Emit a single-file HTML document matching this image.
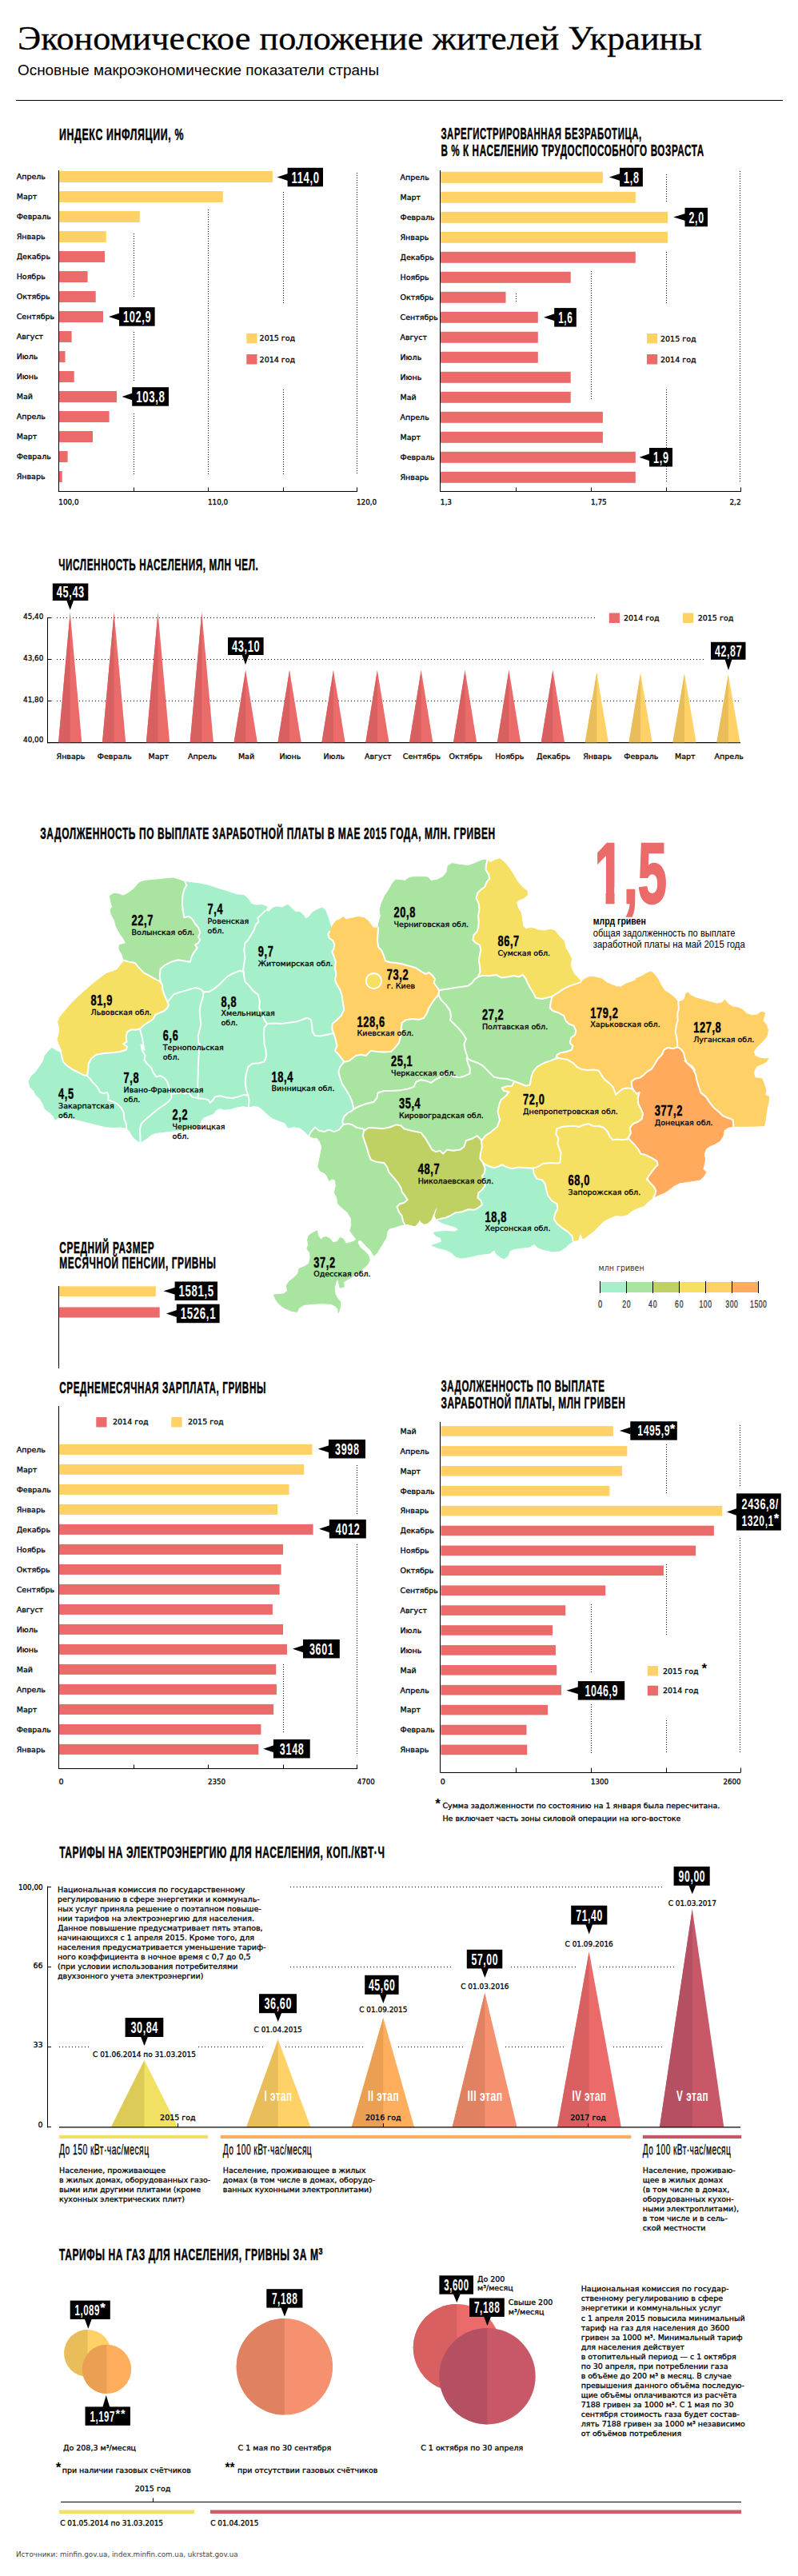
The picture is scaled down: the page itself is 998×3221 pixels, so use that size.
<!DOCTYPE html>
<html lang="ru"><head><meta charset="utf-8"><title>Экономическое положение жителей Украины</title>
<style>
html,body{margin:0;padding:0;background:#fff}
svg{display:block;font-family:'Liberation Sans',sans-serif}
.h{font-family:'Liberation Sans',sans-serif;font-weight:bold;stroke-width:.45px}
.l{font-family:'DejaVu Sans','Liberation Sans',sans-serif;font-size:9.5px;stroke:#000;stroke-width:.3px}
.d4{stroke:#000;stroke-width:1;stroke-dasharray:1 3;fill:none}
.hc{font-family:'Liberation Sans',sans-serif;stroke:#000;stroke-width:.3px}
.d{stroke:#000;stroke-width:1;stroke-dasharray:1 2;fill:none}
</style></head><body>
<svg width="998" height="3221" viewBox="0 0 998 3221">
<text x="22.0" y="61.5" font-size="42.5" font-family="'Liberation Serif', serif" textLength="856.0" lengthAdjust="spacingAndGlyphs" stroke="#000" stroke-width="0.3">Экономическое положение жителей Украины</text>
<text x="22.0" y="94.0" font-size="17.5" font-family="'Liberation Sans', sans-serif" textLength="452.0" lengthAdjust="spacingAndGlyphs">Основные макроэкономические показатели страны</text>
<line x1="20.0" y1="125.5" x2="979.0" y2="125.5" stroke="#000" stroke-width="1" />
<text class="h" transform="translate(74.0 174.5) scale(0.630 1)" font-size="19.6" stroke="#000" textLength="246.7" lengthAdjust="spacing">ИНДЕКС ИНФЛЯЦИИ, %</text>
<rect x="73.3" y="214.0" width="267.6" height="14.0" fill="#FFD166" />
<text class="l" x="20.7" y="224.3">Апрель</text>
<rect x="73.3" y="239.0" width="205.5" height="14.0" fill="#FFD166" />
<text class="l" x="20.7" y="249.3">Март</text>
<rect x="73.3" y="264.0" width="101.5" height="14.0" fill="#FFD166" />
<text class="l" x="20.7" y="274.3">Февраль</text>
<rect x="73.3" y="289.0" width="59.5" height="14.0" fill="#FFD166" />
<text class="l" x="20.7" y="299.3">Январь</text>
<rect x="73.3" y="314.0" width="57.7" height="14.0" fill="#EB6A6A" />
<text class="l" x="20.7" y="324.3">Декабрь</text>
<rect x="73.3" y="339.0" width="36.3" height="14.0" fill="#EB6A6A" />
<text class="l" x="20.7" y="349.3">Ноябрь</text>
<rect x="73.3" y="364.0" width="46.4" height="14.0" fill="#EB6A6A" />
<text class="l" x="20.7" y="374.3">Октябрь</text>
<rect x="73.3" y="389.0" width="55.7" height="14.0" fill="#EB6A6A" />
<text class="l" x="20.7" y="399.3">Сентябрь</text>
<rect x="73.3" y="414.0" width="16.3" height="14.0" fill="#EB6A6A" />
<text class="l" x="20.7" y="424.3">Август</text>
<rect x="73.3" y="439.0" width="8.2" height="14.0" fill="#EB6A6A" />
<text class="l" x="20.7" y="449.3">Июль</text>
<rect x="73.3" y="464.0" width="19.4" height="14.0" fill="#EB6A6A" />
<text class="l" x="20.7" y="474.3">Июнь</text>
<rect x="73.3" y="489.0" width="72.7" height="14.0" fill="#EB6A6A" />
<text class="l" x="20.7" y="499.3">Май</text>
<rect x="73.3" y="514.0" width="63.3" height="14.0" fill="#EB6A6A" />
<text class="l" x="20.7" y="524.3">Апрель</text>
<rect x="73.3" y="539.0" width="42.7" height="14.0" fill="#EB6A6A" />
<text class="l" x="20.7" y="549.3">Март</text>
<rect x="73.3" y="564.0" width="11.3" height="14.0" fill="#EB6A6A" />
<text class="l" x="20.7" y="574.3">Февраль</text>
<rect x="73.3" y="589.0" width="4.4" height="14.0" fill="#EB6A6A" />
<text class="l" x="20.7" y="599.3">Январь</text>
<line x1="73.5" y1="213.0" x2="73.5" y2="615.0" stroke="#000" stroke-width="1" />
<line x1="72.8" y1="614.5" x2="446.5" y2="614.5" stroke="#000" stroke-width="1" />
<line x1="73.5" y1="609.5" x2="73.5" y2="615.0" stroke="#000" stroke-width="1" />
<text class="l" x="73.3" y="631.0" textLength="25.2" lengthAdjust="spacingAndGlyphs">100,0</text>
<line x1="167.5" y1="609.5" x2="167.5" y2="615.0" stroke="#000" stroke-width="1" />
<line x1="260.5" y1="609.5" x2="260.5" y2="615.0" stroke="#000" stroke-width="1" />
<text class="l" x="260.0" y="631.0" textLength="25.2" lengthAdjust="spacingAndGlyphs">110,0</text>
<line x1="354.5" y1="609.5" x2="354.5" y2="615.0" stroke="#000" stroke-width="1" />
<line x1="446.5" y1="609.5" x2="446.5" y2="615.0" stroke="#000" stroke-width="1" />
<text class="l" x="446.0" y="631.0" textLength="25.2" lengthAdjust="spacingAndGlyphs">120,0</text>
<line x1="167.5" y1="292.0" x2="167.5" y2="371.0" class="d"/>
<line x1="167.5" y1="415.0" x2="167.5" y2="478.0" class="d"/>
<line x1="167.5" y1="517.0" x2="167.5" y2="594.0" class="d"/>
<line x1="260.5" y1="262.0" x2="260.5" y2="594.0" class="d"/>
<line x1="354.5" y1="240.0" x2="354.5" y2="381.0" class="d"/>
<line x1="354.5" y1="487.0" x2="354.5" y2="594.0" class="d"/>
<line x1="446.5" y1="216.0" x2="446.5" y2="594.0" class="d"/>
<polygon points="346.5,221.5 360.1,217.0 360.1,226.0" fill="#000" />
<rect x="359.6" y="209.8" width="44.4" height="23.5" fill="#000" />
<text class="h" transform="translate(381.8 228.5) scale(0.670 1)" font-size="19.5" fill="#fff" text-anchor="middle" textLength="51.3" lengthAdjust="spacing">114,0</text>
<polygon points="136.0,396.0 149.5,391.5 149.5,400.5" fill="#000" />
<rect x="149.0" y="384.2" width="44.6" height="23.5" fill="#000" />
<text class="h" transform="translate(171.3 403.0) scale(0.659 1)" font-size="19.5" fill="#fff" text-anchor="middle" textLength="52.5" lengthAdjust="spacing">102,9</text>
<polygon points="152.6,496.0 165.7,491.5 165.7,500.5" fill="#000" />
<rect x="165.2" y="484.2" width="45.8" height="23.5" fill="#000" />
<text class="h" transform="translate(188.1 503.0) scale(0.682 1)" font-size="19.5" fill="#fff" text-anchor="middle" textLength="52.5" lengthAdjust="spacing">103,8</text>
<rect x="308.3" y="416.8" width="13.2" height="12.5" fill="#FFD166" />
<text class="l" x="324.6" y="426.3">2015 год</text>
<rect x="308.3" y="443.0" width="13.2" height="12.5" fill="#EB6A6A" />
<text class="l" x="324.6" y="452.5">2014 год</text>
<text class="h" transform="translate(551.4 173.5) scale(0.580 1)" font-size="19.6" stroke="#000" textLength="432.5" lengthAdjust="spacing">ЗАРЕГИСТРИРОВАННАЯ БЕЗРАБОТИЦА,</text>
<text class="h" transform="translate(551.4 195.1) scale(0.596 1)" font-size="19.6" stroke="#000" textLength="551.7" lengthAdjust="spacing">В % К НАСЕЛЕНИЮ ТРУДОСПОСОБНОГО ВОЗРАСТА</text>
<rect x="550.8" y="214.8" width="203.1" height="14.0" fill="#FFD166" />
<text class="l" x="500.5" y="225.1">Апрель</text>
<rect x="550.8" y="239.8" width="244.0" height="14.0" fill="#FFD166" />
<text class="l" x="500.5" y="250.1">Март</text>
<rect x="550.8" y="264.8" width="284.2" height="14.0" fill="#FFD166" />
<text class="l" x="500.5" y="275.1">Февраль</text>
<rect x="550.8" y="289.8" width="284.2" height="14.0" fill="#FFD166" />
<text class="l" x="500.5" y="300.1">Январь</text>
<rect x="550.8" y="314.8" width="244.0" height="14.0" fill="#EB6A6A" />
<text class="l" x="500.5" y="325.1">Декабрь</text>
<rect x="550.8" y="339.8" width="162.9" height="14.0" fill="#EB6A6A" />
<text class="l" x="500.5" y="350.1">Ноябрь</text>
<rect x="550.8" y="364.8" width="81.7" height="14.0" fill="#EB6A6A" />
<text class="l" x="500.5" y="375.1">Октябрь</text>
<rect x="550.8" y="389.8" width="122.0" height="14.0" fill="#EB6A6A" />
<text class="l" x="500.5" y="400.1">Сентябрь</text>
<rect x="550.8" y="414.8" width="122.0" height="14.0" fill="#EB6A6A" />
<text class="l" x="500.5" y="425.1">Август</text>
<rect x="550.8" y="439.8" width="122.0" height="14.0" fill="#EB6A6A" />
<text class="l" x="500.5" y="450.1">Июль</text>
<rect x="550.8" y="464.8" width="162.9" height="14.0" fill="#EB6A6A" />
<text class="l" x="500.5" y="475.1">Июнь</text>
<rect x="550.8" y="489.8" width="162.9" height="14.0" fill="#EB6A6A" />
<text class="l" x="500.5" y="500.1">Май</text>
<rect x="550.8" y="514.8" width="203.1" height="14.0" fill="#EB6A6A" />
<text class="l" x="500.5" y="525.1">Апрель</text>
<rect x="550.8" y="539.8" width="203.1" height="14.0" fill="#EB6A6A" />
<text class="l" x="500.5" y="550.1">Март</text>
<rect x="550.8" y="564.8" width="244.0" height="14.0" fill="#EB6A6A" />
<text class="l" x="500.5" y="575.1">Февраль</text>
<rect x="550.8" y="589.8" width="244.0" height="14.0" fill="#EB6A6A" />
<text class="l" x="500.5" y="600.1">Январь</text>
<line x1="550.5" y1="213.0" x2="550.5" y2="615.0" stroke="#000" stroke-width="1" />
<line x1="550.3" y1="614.5" x2="926.5" y2="614.5" stroke="#000" stroke-width="1" />
<line x1="550.5" y1="609.5" x2="550.5" y2="615.0" stroke="#000" stroke-width="1" />
<line x1="645.5" y1="609.5" x2="645.5" y2="615.0" stroke="#000" stroke-width="1" />
<line x1="739.5" y1="609.5" x2="739.5" y2="615.0" stroke="#000" stroke-width="1" />
<line x1="833.5" y1="609.5" x2="833.5" y2="615.0" stroke="#000" stroke-width="1" />
<line x1="926.5" y1="609.5" x2="926.5" y2="615.0" stroke="#000" stroke-width="1" />
<text class="l" x="550.8" y="631.0" textLength="14.2" lengthAdjust="spacingAndGlyphs">1,3</text>
<text class="l" x="739.0" y="631.0" textLength="19.7" lengthAdjust="spacingAndGlyphs">1,75</text>
<text class="l" x="926.6" y="631.0" text-anchor="end" textLength="14.2" lengthAdjust="spacingAndGlyphs">2,2</text>
<line x1="645.5" y1="367.0" x2="645.5" y2="379.0" class="d"/>
<line x1="739.5" y1="339.0" x2="739.5" y2="500.0" class="d"/>
<line x1="833.5" y1="218.0" x2="833.5" y2="254.0" class="d"/>
<line x1="833.5" y1="315.0" x2="833.5" y2="381.0" class="d"/>
<line x1="833.5" y1="487.0" x2="833.5" y2="603.0" class="d"/>
<line x1="925.5" y1="214.0" x2="925.5" y2="603.0" class="d"/>
<polygon points="761.7,221.5 775.6,217.0 775.6,226.0" fill="#000" />
<rect x="775.1" y="209.8" width="28.8" height="23.5" fill="#000" />
<text class="h" transform="translate(789.5 228.5) scale(0.645 1)" font-size="19.5" fill="#fff" text-anchor="middle" textLength="29.1" lengthAdjust="spacing">1,8</text>
<polygon points="842.2,271.5 857.0,267.0 857.0,276.0" fill="#000" />
<rect x="856.5" y="259.8" width="28.5" height="23.5" fill="#000" />
<text class="h" transform="translate(870.8 278.5) scale(0.635 1)" font-size="19.5" fill="#fff" text-anchor="middle" textLength="29.1" lengthAdjust="spacing">2,0</text>
<polygon points="680.0,396.8 693.7,392.3 693.7,401.3" fill="#000" />
<rect x="693.2" y="385.1" width="27.6" height="23.5" fill="#000" />
<text class="h" transform="translate(707.0 403.8) scale(0.604 1)" font-size="19.5" fill="#fff" text-anchor="middle" textLength="29.1" lengthAdjust="spacing">1,6</text>
<polygon points="799.5,571.8 812.5,567.3 812.5,576.3" fill="#000" />
<rect x="812.0" y="560.0" width="29.0" height="23.5" fill="#000" />
<text class="h" transform="translate(826.5 578.8) scale(0.652 1)" font-size="19.5" fill="#fff" text-anchor="middle" textLength="29.1" lengthAdjust="spacing">1,9</text>
<rect x="809.0" y="417.0" width="13.2" height="12.5" fill="#FFD166" />
<text class="l" x="826.0" y="426.6">2015 год</text>
<rect x="809.0" y="443.0" width="13.2" height="12.5" fill="#EB6A6A" />
<text class="l" x="826.0" y="452.8">2014 год</text>
<text class="h" transform="translate(73.3 712.7) scale(0.598 1)" font-size="19.6" stroke="#000" textLength="417.1" lengthAdjust="spacing">ЧИСЛЕННОСТЬ НАСЕЛЕНИЯ, МЛН ЧЕЛ.</text>
<text class="l" x="54.3" y="773.8" text-anchor="end" textLength="25.2" lengthAdjust="spacingAndGlyphs">45,40</text>
<text class="l" x="54.3" y="825.9" text-anchor="end" textLength="25.2" lengthAdjust="spacingAndGlyphs">43,60</text>
<text class="l" x="54.3" y="877.8" text-anchor="end" textLength="25.2" lengthAdjust="spacingAndGlyphs">41,80</text>
<text class="l" x="54.3" y="927.5" text-anchor="end" textLength="25.2" lengthAdjust="spacingAndGlyphs">40,00</text>
<line x1="71" y1="772.5" x2="746" y2="772.5" class="d4"/>
<line x1="59.6" y1="772.5" x2="64.5" y2="772.5" stroke="#000" stroke-width="1" />
<line x1="71" y1="824.5" x2="882" y2="824.5" class="d4"/>
<line x1="59.6" y1="824.5" x2="64.5" y2="824.5" stroke="#000" stroke-width="1" />
<line x1="71" y1="876.5" x2="926" y2="876.5" class="d4"/>
<line x1="59.6" y1="876.5" x2="64.5" y2="876.5" stroke="#000" stroke-width="1" />
<line x1="59.5" y1="772.0" x2="59.5" y2="929.2" stroke="#000" stroke-width="1" />
<line x1="59.1" y1="928.7" x2="926.0" y2="928.7" stroke="#000" stroke-width="1.2" />
<polygon points="87.7,765.8 102.3,928.2 73.1,928.2" fill="#EB6A6A" />
<polygon points="87.7,765.8 87.7,928.2 73.1,928.2" fill="#D96060" />
<text class="l" x="88.5" y="948.6" text-anchor="middle">Январь</text>
<polygon points="142.6,765.8 157.2,928.2 128.0,928.2" fill="#EB6A6A" />
<polygon points="142.6,765.8 142.6,928.2 128.0,928.2" fill="#D96060" />
<text class="l" x="143.4" y="948.6" text-anchor="middle">Февраль</text>
<polygon points="197.5,765.8 212.1,928.2 182.9,928.2" fill="#EB6A6A" />
<polygon points="197.5,765.8 197.5,928.2 182.9,928.2" fill="#D96060" />
<text class="l" x="198.3" y="948.6" text-anchor="middle">Март</text>
<polygon points="252.3,765.8 266.9,928.2 237.7,928.2" fill="#EB6A6A" />
<polygon points="252.3,765.8 252.3,928.2 237.7,928.2" fill="#D96060" />
<text class="l" x="253.1" y="948.6" text-anchor="middle">Апрель</text>
<polygon points="307.2,838.0 321.8,928.2 292.6,928.2" fill="#EB6A6A" />
<polygon points="307.2,838.0 307.2,928.2 292.6,928.2" fill="#D96060" />
<text class="l" x="308.0" y="948.6" text-anchor="middle">Май</text>
<polygon points="362.1,838.0 376.7,928.2 347.5,928.2" fill="#EB6A6A" />
<polygon points="362.1,838.0 362.1,928.2 347.5,928.2" fill="#D96060" />
<text class="l" x="362.9" y="948.6" text-anchor="middle">Июнь</text>
<polygon points="417.0,838.0 431.6,928.2 402.4,928.2" fill="#EB6A6A" />
<polygon points="417.0,838.0 417.0,928.2 402.4,928.2" fill="#D96060" />
<text class="l" x="417.8" y="948.6" text-anchor="middle">Июль</text>
<polygon points="471.9,838.0 486.5,928.2 457.3,928.2" fill="#EB6A6A" />
<polygon points="471.9,838.0 471.9,928.2 457.3,928.2" fill="#D96060" />
<text class="l" x="472.7" y="948.6" text-anchor="middle">Август</text>
<polygon points="526.7,838.0 541.3,928.2 512.1,928.2" fill="#EB6A6A" />
<polygon points="526.7,838.0 526.7,928.2 512.1,928.2" fill="#D96060" />
<text class="l" x="527.5" y="948.6" text-anchor="middle">Сентябрь</text>
<polygon points="581.6,838.0 596.2,928.2 567.0,928.2" fill="#EB6A6A" />
<polygon points="581.6,838.0 581.6,928.2 567.0,928.2" fill="#D96060" />
<text class="l" x="582.4" y="948.6" text-anchor="middle">Октябрь</text>
<polygon points="636.5,838.0 651.1,928.2 621.9,928.2" fill="#EB6A6A" />
<polygon points="636.5,838.0 636.5,928.2 621.9,928.2" fill="#D96060" />
<text class="l" x="637.3" y="948.6" text-anchor="middle">Ноябрь</text>
<polygon points="691.4,838.0 706.0,928.2 676.8,928.2" fill="#EB6A6A" />
<polygon points="691.4,838.0 691.4,928.2 676.8,928.2" fill="#D96060" />
<text class="l" x="692.2" y="948.6" text-anchor="middle">Декабрь</text>
<polygon points="746.3,841.0 760.9,928.2 731.7,928.2" fill="#FFD166" />
<polygon points="746.3,841.0 746.3,928.2 731.7,928.2" fill="#E9BD59" />
<text class="l" x="747.1" y="948.6" text-anchor="middle">Январь</text>
<polygon points="801.1,842.0 815.7,928.2 786.5,928.2" fill="#FFD166" />
<polygon points="801.1,842.0 801.1,928.2 786.5,928.2" fill="#E9BD59" />
<text class="l" x="801.9" y="948.6" text-anchor="middle">Февраль</text>
<polygon points="856.0,842.5 870.6,928.2 841.4,928.2" fill="#FFD166" />
<polygon points="856.0,842.5 856.0,928.2 841.4,928.2" fill="#E9BD59" />
<text class="l" x="856.8" y="948.6" text-anchor="middle">Март</text>
<polygon points="910.9,843.5 925.5,928.2 896.3,928.2" fill="#FFD166" />
<polygon points="910.9,843.5 910.9,928.2 896.3,928.2" fill="#E9BD59" />
<text class="l" x="911.7" y="948.6" text-anchor="middle">Апрель</text>
<polygon points="87.7,762.7 83.2,750.5 92.2,750.5" fill="#000" />
<rect x="65.8" y="729.5" width="44.5" height="21.5" fill="#000" />
<text class="h" transform="translate(88.0 747.3) scale(0.657 1)" font-size="19.5" fill="#fff" text-anchor="middle" textLength="52.5" lengthAdjust="spacing">45,43</text>
<polygon points="307.0,831.0 302.5,818.5 311.5,818.5" fill="#000" />
<rect x="285.0" y="797.0" width="44.6" height="22.0" fill="#000" />
<text class="h" transform="translate(307.3 815.0) scale(0.659 1)" font-size="19.5" fill="#fff" text-anchor="middle" textLength="52.5" lengthAdjust="spacing">43,10</text>
<polygon points="911.0,838.0 906.5,824.3 915.5,824.3" fill="#000" />
<rect x="889.0" y="802.8" width="43.5" height="22.0" fill="#000" />
<text class="h" transform="translate(910.8 820.8) scale(0.638 1)" font-size="19.5" fill="#fff" text-anchor="middle" textLength="52.5" lengthAdjust="spacing">42,87</text>
<rect x="761.8" y="766.5" width="13.2" height="12.5" fill="#EB6A6A" />
<text class="l" x="780.0" y="776.0">2014 год</text>
<rect x="854.0" y="766.5" width="13.2" height="12.5" fill="#FFD166" />
<text class="l" x="872.7" y="776.0">2015 год</text>
<text class="h" transform="translate(50.3 1049.3) scale(0.611 1)" font-size="19.6" stroke="#000" textLength="931.0" lengthAdjust="spacing">ЗАДОЛЖЕННОСТЬ ПО ВЫПЛАТЕ ЗАРАБОТНОЙ ПЛАТЫ В МАЕ 2015 ГОДА, МЛН. ГРИВЕН</text>
<g stroke-width="1" stroke-linejoin="round">
<path fill="#A9E5A0" stroke="#A9E5A0" d="M155.1 1200.8 L152.6 1192.8 L148.8 1186.5 L149.6 1181.5 L155.1 1180.3 L157.6 1179.0 L153.8 1172.7 L148.8 1165.2 L145.1 1157.7 L143.1 1150.2 L139.5 1143.9 L138.0 1137.6 L140.6 1133.9 L138.8 1127.6 L137.5 1120.1 L142.6 1117.1 L148.8 1118.1 L153.8 1120.1 L160.1 1117.1 L167.6 1111.3 L173.9 1103.8 L181.4 1101.3 L195.2 1100.1 L206.5 1098.8 L216.5 1098.0 L225.3 1100.6 L231.5 1103.1 L231.5 1103.1 L233.3 1107.1 L230.3 1112.6 L228.3 1120.1 L227.8 1130.1 L229.0 1140.2 L230.3 1147.2 L235.8 1145.7 L240.3 1148.9 L244.1 1155.2 L248.3 1160.2 L250.3 1166.5 L247.8 1171.5 L250.3 1175.2 L247.8 1179.0 L244.1 1181.5 L246.6 1185.3 L242.8 1190.3 L239.8 1195.8 L237.8 1202.8 L230.3 1201.6 L222.8 1200.3 L214.0 1202.8 L206.5 1206.6 L200.7 1211.6 L199.7 1220.4 L200.7 1227.4 L200.7 1227.4 L195.2 1224.9 L187.7 1220.4 L180.2 1216.6 L173.9 1210.3 L168.9 1204.1 L161.4 1202.8 L155.1 1200.8 Z"/>
<path fill="#A5F0CB" stroke="#A5F0CB" d="M231.3 1102.6 L240.1 1103.8 L250.1 1105.1 L260.2 1107.1 L272.7 1111.3 L285.2 1115.1 L296.5 1118.8 L305.3 1119.6 L310.3 1123.9 L314.0 1130.1 L320.3 1132.1 L327.8 1131.4 L334.1 1133.9 L331.6 1138.9 L331.6 1138.9 L326.6 1143.9 L322.3 1147.7 L323.3 1152.7 L319.8 1156.4 L317.8 1162.7 L314.0 1169.0 L310.3 1175.2 L306.5 1179.0 L305.3 1187.8 L306.5 1197.8 L304.8 1207.8 L304.0 1214.1 L304.6 1215.1 L300.3 1213.8 L296.5 1215.1 L290.3 1217.6 L284.0 1221.4 L279.0 1226.4 L274.0 1231.4 L267.7 1236.4 L261.5 1240.2 L254.7 1240.2 L254.7 1240.2 L250.2 1236.4 L243.9 1235.1 L233.9 1238.1 L223.9 1240.9 L217.6 1243.2 L213.8 1247.7 L209.6 1252.7 L209.4 1252.7 L205.4 1243.9 L203.4 1237.6 L202.9 1231.4 L199.9 1227.1 L200.7 1227.4 L199.7 1220.4 L200.7 1211.6 L206.5 1206.6 L214.0 1202.8 L222.8 1200.3 L230.3 1201.6 L237.8 1202.8 L239.8 1195.8 L242.8 1190.3 L246.6 1185.3 L244.1 1181.5 L247.8 1179.0 L250.3 1175.2 L247.8 1171.5 L250.3 1166.5 L248.3 1160.2 L244.1 1155.2 L240.3 1148.9 L235.8 1145.7 L230.3 1147.2 L229.0 1140.2 L227.8 1130.1 L228.3 1120.1 L230.3 1112.6 L233.3 1107.1 L231.5 1103.1 Z"/>
<path fill="#A5F0CB" stroke="#A5F0CB" d="M331.6 1138.8 L336.3 1140.1 L341.4 1135.1 L346.4 1133.8 L352.6 1135.1 L360.2 1131.3 L363.9 1135.1 L368.9 1140.1 L375.2 1140.6 L378.9 1143.9 L382.7 1148.9 L386.5 1146.4 L390.2 1141.4 L396.5 1137.6 L402.8 1135.1 L406.5 1137.6 L409.0 1143.9 L411.5 1151.4 L414.0 1158.9 L412.3 1164.7 L412.3 1164.7 L410.3 1167.7 L411.5 1172.7 L416.5 1176.4 L418.3 1181.5 L417.3 1186.5 L415.3 1190.2 L417.8 1196.5 L419.8 1202.8 L419.0 1210.3 L420.3 1217.8 L419.0 1225.3 L421.6 1231.6 L425.3 1237.8 L427.8 1245.4 L427.8 1246.3 L429.1 1255.0 L430.3 1262.6 L426.6 1270.1 L420.3 1276.3 L415.8 1280.1 L415.3 1286.4 L417.3 1292.1 L417.3 1292.1 L414.0 1292.6 L407.8 1293.9 L400.3 1295.6 L394.0 1295.1 L390.7 1290.1 L390.2 1282.6 L389.0 1275.1 L384.0 1272.6 L377.7 1275.1 L370.2 1277.6 L361.4 1278.8 L352.6 1280.1 L342.6 1279.6 L333.8 1280.1 L334.1 1280.3 L330.4 1275.2 L327.9 1267.7 L324.1 1260.2 L324.9 1252.7 L322.9 1243.9 L316.6 1238.9 L311.6 1232.6 L306.6 1227.6 L305.3 1221.4 L304.6 1215.1 L304.0 1214.1 L304.8 1207.8 L306.5 1197.8 L305.3 1187.8 L306.5 1179.0 L310.3 1175.2 L314.0 1169.0 L317.8 1162.7 L319.8 1156.4 L323.3 1152.7 L322.3 1147.7 L326.6 1143.9 L331.6 1138.9 Z"/>
<path fill="#F5E064" stroke="#F5E064" d="M154.1 1203.1 L150.3 1207.6 L146.5 1212.6 L140.3 1215.1 L132.8 1217.6 L127.7 1221.4 L117.7 1228.9 L107.7 1237.6 L97.7 1246.4 L88.9 1255.2 L81.4 1264.0 L75.1 1271.5 L72.6 1277.7 L74.6 1285.3 L73.9 1292.8 L72.1 1300.3 L75.1 1307.8 L78.1 1315.3 L76.6 1316.6 L76.4 1317.0 L78.9 1327.6 L83.9 1332.6 L91.4 1337.6 L98.9 1341.4 L105.2 1344.6 L108.9 1345.1 L108.9 1345.1 L110.2 1337.6 L110.7 1330.1 L114.0 1323.8 L120.2 1318.8 L130.3 1317.0 L140.3 1316.3 L150.3 1315.0 L157.8 1312.5 L159.1 1308.8 L154.1 1305.3 L158.3 1302.8 L157.8 1296.5 L159.1 1290.3 L164.1 1287.3 L169.1 1287.8 L174.9 1286.5 L174.9 1286.5 L180.4 1281.5 L186.6 1277.7 L191.7 1274.0 L194.2 1269.0 L199.2 1266.5 L205.4 1264.0 L209.2 1260.2 L211.0 1256.4 L209.4 1252.7 L209.4 1252.7 L205.4 1243.9 L203.4 1237.6 L202.9 1231.4 L199.9 1227.1 L200.7 1227.4 L195.2 1224.9 L187.7 1220.4 L180.2 1216.6 L173.9 1210.3 L168.9 1204.1 L161.4 1202.8 L155.1 1200.8 Z"/>
<path fill="#A5F0CB" stroke="#A5F0CB" d="M209.6 1252.7 L213.8 1247.7 L217.6 1243.2 L223.9 1240.9 L233.9 1238.1 L243.9 1235.1 L250.2 1236.4 L254.7 1240.2 L254.7 1240.2 L253.9 1246.4 L251.4 1253.9 L249.7 1262.7 L250.2 1271.5 L251.4 1280.3 L249.7 1287.8 L247.7 1295.3 L248.2 1305.3 L249.7 1305.0 L249.0 1315.0 L248.2 1325.1 L247.7 1335.1 L247.7 1345.1 L247.2 1355.1 L247.7 1365.2 L247.7 1373.2 L247.7 1373.2 L240.2 1371.4 L235.2 1365.7 L231.4 1367.7 L226.4 1365.7 L220.2 1367.2 L213.9 1367.7 L214.2 1367.7 L211.7 1360.2 L209.2 1352.6 L205.4 1347.6 L200.4 1345.1 L195.4 1346.4 L191.7 1341.4 L189.1 1335.1 L184.1 1330.1 L180.4 1325.1 L181.6 1320.1 L177.9 1313.8 L176.6 1306.3 L180.4 1312.8 L177.9 1297.8 L174.9 1286.5 L174.9 1286.5 L180.4 1281.5 L186.6 1277.7 L191.7 1274.0 L194.2 1269.0 L199.2 1266.5 L205.4 1264.0 L209.2 1260.2 L211.0 1256.4 L209.4 1252.7 Z"/>
<path fill="#A5F0CB" stroke="#A5F0CB" d="M254.7 1240.2 L261.5 1240.2 L267.7 1236.4 L274.0 1231.4 L279.0 1226.4 L284.0 1221.4 L290.3 1217.6 L296.5 1215.1 L300.3 1213.8 L304.6 1215.1 L304.6 1215.1 L305.3 1221.4 L306.6 1227.6 L311.6 1232.6 L316.6 1238.9 L322.9 1243.9 L324.9 1252.7 L324.1 1260.2 L327.9 1267.7 L330.4 1275.2 L334.1 1280.3 L334.1 1280.3 L330.4 1285.3 L329.9 1292.8 L330.4 1300.3 L330.4 1305.0 L332.4 1312.5 L332.9 1321.3 L330.4 1327.6 L322.9 1329.6 L315.4 1330.1 L310.4 1333.8 L307.9 1342.6 L306.6 1352.6 L307.9 1362.7 L310.4 1369.7 L310.4 1369.7 L305.4 1368.9 L297.8 1371.4 L290.3 1373.2 L282.8 1372.2 L275.3 1370.2 L269.0 1371.4 L266.5 1375.2 L262.8 1378.9 L260.3 1375.2 L255.2 1373.9 L247.7 1373.2 L247.7 1373.2 L247.7 1365.2 L247.2 1355.1 L247.7 1345.1 L247.7 1335.1 L248.2 1325.1 L249.0 1315.0 L249.7 1305.0 L248.2 1305.3 L247.7 1295.3 L249.7 1287.8 L251.4 1280.3 L250.2 1271.5 L249.7 1262.7 L251.4 1253.9 L253.9 1246.4 L254.7 1240.2 Z"/>
<path fill="#A5F0CB" stroke="#A5F0CB" d="M174.9 1286.5 L169.1 1287.8 L164.1 1287.3 L159.1 1290.3 L157.8 1296.5 L158.3 1302.8 L154.1 1305.3 L159.1 1308.8 L157.8 1312.5 L150.3 1315.0 L140.3 1316.3 L130.3 1317.0 L120.2 1318.8 L114.0 1323.8 L110.7 1330.1 L110.2 1337.6 L108.9 1345.1 L108.9 1345.1 L112.7 1348.9 L116.5 1353.9 L121.5 1358.9 L125.2 1365.7 L130.3 1367.2 L134.0 1365.7 L135.8 1370.2 L135.3 1375.2 L140.3 1377.2 L146.5 1380.2 L151.6 1385.2 L154.8 1391.5 L155.3 1399.0 L157.8 1405.3 L158.3 1410.3 L158.3 1410.3 L162.8 1415.3 L166.6 1421.6 L170.4 1425.3 L175.4 1428.3 L175.4 1428.3 L175.4 1420.3 L174.9 1412.8 L176.6 1405.3 L182.9 1399.0 L190.4 1392.7 L197.9 1386.5 L205.4 1381.5 L210.5 1377.7 L214.2 1372.7 L214.2 1367.7 L214.2 1367.7 L211.7 1360.2 L209.2 1352.6 L205.4 1347.6 L200.4 1345.1 L195.4 1346.4 L191.7 1341.4 L189.1 1335.1 L184.1 1330.1 L180.4 1325.1 L181.6 1320.1 L177.9 1313.8 L176.6 1306.3 L180.4 1312.8 L177.9 1297.8 L174.9 1286.5 Z"/>
<path fill="#A5F0CB" stroke="#A5F0CB" d="M76.4 1317.0 L70.1 1313.8 L64.6 1310.5 L60.1 1315.0 L56.3 1320.1 L53.8 1327.6 L48.8 1335.1 L43.8 1341.4 L38.8 1346.4 L36.3 1351.4 L37.5 1358.9 L42.5 1363.9 L45.0 1368.9 L50.1 1373.9 L53.8 1380.2 L56.3 1386.5 L62.6 1391.5 L67.6 1396.5 L68.8 1400.3 L75.1 1396.5 L83.9 1397.2 L92.7 1399.0 L102.7 1401.5 L112.7 1404.0 L122.7 1406.5 L132.8 1409.0 L142.8 1409.5 L150.3 1409.0 L158.3 1410.3 L158.3 1410.3 L157.8 1405.3 L155.3 1399.0 L154.8 1391.5 L151.6 1385.2 L146.5 1380.2 L140.3 1377.2 L135.3 1375.2 L135.8 1370.2 L134.0 1365.7 L130.3 1367.2 L125.2 1365.7 L121.5 1358.9 L116.5 1353.9 L112.7 1348.9 L108.9 1345.1 L108.9 1345.1 L105.2 1344.6 L98.9 1341.4 L91.4 1337.6 L83.9 1332.6 L78.9 1327.6 L76.4 1317.0 Z"/>
<path fill="#A5F0CB" stroke="#A5F0CB" d="M213.9 1367.7 L220.2 1367.2 L226.4 1365.7 L231.4 1367.7 L235.2 1365.7 L240.2 1371.4 L247.7 1373.2 L247.7 1373.2 L255.2 1373.9 L260.3 1375.2 L262.8 1378.9 L266.5 1375.2 L269.0 1371.4 L275.3 1370.2 L282.8 1372.2 L290.3 1373.2 L297.8 1371.4 L305.4 1368.9 L310.4 1369.7 L310.4 1369.7 L311.6 1375.2 L310.9 1384.0 L310.9 1384.0 L304.1 1382.7 L296.6 1384.0 L287.8 1386.5 L280.3 1387.2 L275.3 1385.7 L270.3 1387.7 L266.5 1392.7 L260.3 1394.7 L254.0 1397.7 L249.0 1405.3 L242.7 1411.5 L235.2 1412.8 L225.2 1412.8 L215.1 1414.0 L205.1 1415.3 L195.1 1416.5 L188.8 1419.0 L182.6 1424.1 L175.5 1428.3 L175.4 1428.3 L175.4 1420.3 L174.9 1412.8 L176.6 1405.3 L182.9 1399.0 L190.4 1392.7 L197.9 1386.5 L205.4 1381.5 L210.5 1377.7 L214.2 1372.7 L214.2 1367.7 Z"/>
<path fill="#A5F0CB" stroke="#A5F0CB" d="M333.8 1280.1 L342.6 1279.6 L352.6 1280.1 L361.4 1278.8 L370.2 1277.6 L377.7 1275.1 L384.0 1272.6 L389.0 1275.1 L390.2 1282.6 L390.7 1290.1 L394.0 1295.1 L400.3 1295.6 L407.8 1293.9 L414.0 1292.6 L417.3 1292.1 L417.3 1292.1 L419.8 1300.2 L421.6 1307.7 L419.0 1313.9 L422.8 1317.7 L426.6 1322.7 L430.3 1327.7 L430.3 1327.7 L425.3 1334.0 L423.3 1340.3 L425.3 1347.8 L427.8 1355.3 L432.8 1362.8 L437.3 1370.3 L440.4 1377.8 L442.4 1386.6 L441.6 1387.0 L440.4 1388.8 L435.3 1391.3 L430.3 1396.3 L428.3 1401.3 L429.1 1406.3 L429.1 1406.3 L424.1 1412.6 L417.8 1415.1 L411.5 1412.6 L405.3 1415.1 L399.0 1413.8 L394.0 1409.6 L389.0 1415.1 L386.5 1420.1 L386.5 1420.1 L381.5 1415.1 L375.2 1410.1 L367.7 1408.8 L360.2 1410.1 L356.4 1403.8 L348.9 1401.3 L340.1 1397.5 L333.8 1392.5 L328.8 1387.5 L323.8 1383.8 L317.5 1382.5 L310.8 1384.0 L310.9 1384.0 L311.6 1375.2 L310.4 1369.7 L310.4 1369.7 L307.9 1362.7 L306.6 1352.6 L307.9 1342.6 L310.4 1333.8 L315.4 1330.1 L322.9 1329.6 L330.4 1327.6 L332.9 1321.3 L332.4 1312.5 L330.4 1305.0 L330.4 1300.3 L329.9 1292.8 L330.4 1285.3 L334.1 1280.3 Z"/>
<path fill="#FFD066" stroke="#FFD066" d="M412.3 1164.7 L416.5 1156.4 L420.3 1151.4 L425.3 1149.6 L429.1 1146.4 L432.8 1149.6 L440.4 1148.1 L447.9 1146.4 L455.4 1147.6 L460.4 1151.4 L464.2 1156.4 L466.7 1160.2 L473.4 1160.2 L473.0 1160.2 L472.5 1167.7 L472.0 1175.2 L473.0 1184.0 L477.0 1188.2 L480.1 1195.2 L482.1 1201.5 L487.6 1203.3 L495.1 1204.0 L502.6 1205.3 L511.4 1207.8 L520.2 1210.3 L527.7 1215.3 L532.7 1217.8 L536.4 1215.8 L540.2 1219.0 L544.0 1224.1 L542.7 1229.1 L546.5 1234.1 L549.0 1238.3 L549.3 1238.8 L548.3 1243.9 L544.0 1248.9 L540.3 1253.9 L536.5 1260.2 L534.0 1266.4 L530.2 1272.7 L524.0 1274.7 L515.2 1273.9 L507.7 1275.2 L502.7 1278.9 L501.4 1287.7 L502.7 1287.5 L501.4 1295.0 L498.9 1303.8 L493.9 1310.1 L488.9 1315.1 L480.1 1315.6 L471.4 1315.1 L463.8 1313.8 L457.6 1320.1 L451.3 1318.8 L445.0 1320.1 L442.9 1321.5 L436.6 1326.5 L430.3 1327.7 L430.3 1327.7 L426.6 1322.7 L422.8 1317.7 L419.0 1313.9 L421.6 1307.7 L419.8 1300.2 L417.3 1292.1 L417.3 1292.1 L415.3 1286.4 L415.8 1280.1 L420.3 1276.3 L426.6 1270.1 L430.3 1262.6 L429.1 1255.0 L427.8 1246.3 L427.8 1245.4 L425.3 1237.8 L421.6 1231.6 L419.0 1225.3 L420.3 1217.8 L419.0 1210.3 L419.8 1202.8 L417.8 1196.5 L415.3 1190.2 L417.3 1186.5 L418.3 1181.5 L416.5 1176.4 L411.5 1172.7 L410.3 1167.7 L412.3 1164.7 Z"/>
<path fill="#A9E5A0" stroke="#A9E5A0" d="M473.0 1160.3 L473.8 1154.0 L476.3 1145.3 L475.0 1137.7 L477.5 1129.0 L481.3 1120.2 L486.3 1112.7 L491.3 1103.9 L495.1 1100.2 L501.4 1100.7 L506.4 1101.4 L511.4 1097.6 L518.9 1096.4 L527.7 1096.4 L535.2 1097.1 L538.9 1101.4 L546.5 1100.2 L554.0 1096.4 L559.0 1090.1 L560.3 1082.6 L565.3 1079.6 L575.3 1081.4 L585.3 1082.6 L592.8 1080.1 L599.1 1077.1 L605.4 1075.1 L609.1 1075.6 L609.5 1075.5 L608.0 1081.3 L607.5 1087.6 L611.3 1093.8 L612.1 1098.8 L608.8 1102.6 L606.3 1108.9 L601.3 1112.6 L597.5 1116.4 L595.5 1122.7 L598.8 1130.2 L599.5 1137.7 L598.0 1145.2 L598.8 1152.7 L598.0 1160.3 L596.3 1165.3 L592.5 1169.0 L591.3 1175.3 L595.0 1179.0 L600.0 1181.6 L601.3 1187.8 L600.0 1194.1 L598.8 1200.4 L600.0 1207.9 L600.5 1215.4 L597.8 1221.6 L597.8 1221.6 L594.1 1224.1 L590.3 1229.1 L585.3 1232.8 L576.5 1234.1 L567.8 1235.3 L560.3 1236.6 L554.0 1237.3 L549.0 1238.3 L549.0 1238.3 L546.5 1234.1 L542.7 1229.1 L544.0 1224.1 L540.2 1219.0 L536.4 1215.8 L532.7 1217.8 L527.7 1215.3 L520.2 1210.3 L511.4 1207.8 L502.6 1205.3 L495.1 1204.0 L487.6 1203.3 L482.1 1201.5 L480.1 1195.2 L477.0 1188.2 L473.0 1184.0 L472.0 1175.2 L472.5 1167.7 L473.0 1160.2 Z"/>
<path fill="#F5E064" stroke="#F5E064" d="M609.5 1075.5 L613.8 1078.8 L618.8 1075.5 L625.1 1073.8 L631.4 1078.8 L636.4 1085.1 L641.4 1092.6 L646.4 1101.4 L652.7 1108.9 L658.9 1113.9 L659.7 1118.9 L655.2 1122.7 L648.9 1125.2 L645.6 1128.9 L647.6 1135.2 L651.4 1141.5 L652.7 1150.2 L653.9 1157.7 L657.7 1161.5 L665.2 1160.3 L672.7 1162.8 L680.2 1164.0 L689.0 1162.3 L694.0 1164.0 L699.0 1170.3 L705.3 1176.5 L707.3 1185.3 L707.7 1186.3 L711.5 1192.5 L714.7 1198.8 L713.2 1205.1 L714.7 1211.3 L717.7 1217.6 L722.8 1222.6 L726.5 1228.1 L726.5 1228.1 L720.3 1230.1 L712.7 1232.6 L705.2 1236.4 L697.7 1241.4 L690.7 1245.7 L690.7 1245.7 L685.2 1247.2 L677.6 1248.9 L670.1 1247.7 L667.6 1242.7 L663.9 1236.4 L660.1 1230.1 L657.6 1223.9 L653.8 1218.8 L648.8 1221.4 L642.6 1220.1 L635.0 1221.4 L627.5 1222.6 L620.4 1219.0 L611.6 1220.3 L604.1 1219.8 L597.8 1221.6 L597.8 1221.6 L600.5 1215.4 L600.0 1207.9 L598.8 1200.4 L600.0 1194.1 L601.3 1187.8 L600.0 1181.6 L595.0 1179.0 L591.3 1175.3 L592.5 1169.0 L596.3 1165.3 L598.0 1160.3 L598.8 1152.7 L598.0 1145.2 L599.5 1137.7 L598.8 1130.2 L595.5 1122.7 L597.5 1116.4 L601.3 1112.6 L606.3 1108.9 L608.8 1102.6 L612.1 1098.8 L611.3 1093.8 L607.5 1087.6 L608.0 1081.3 L609.5 1075.5 Z"/>
<path fill="#A9E5A0" stroke="#A9E5A0" d="M549.0 1238.3 L554.0 1237.3 L560.3 1236.6 L567.8 1235.3 L576.5 1234.1 L585.3 1232.8 L590.3 1229.1 L594.1 1224.1 L597.8 1221.6 L597.8 1221.6 L604.1 1219.8 L611.6 1220.3 L620.4 1219.0 L627.5 1222.6 L635.0 1221.4 L642.6 1220.1 L648.8 1221.4 L653.8 1218.8 L657.6 1223.9 L660.1 1230.1 L663.9 1236.4 L667.6 1242.7 L670.1 1247.7 L677.6 1248.9 L685.2 1247.2 L690.7 1245.7 L690.7 1245.7 L688.9 1252.7 L687.7 1260.2 L691.4 1264.0 L698.9 1266.5 L705.2 1270.2 L707.7 1276.5 L711.5 1280.3 L717.7 1282.8 L720.3 1289.0 L719.0 1294.0 L714.0 1297.8 L712.7 1304.1 L716.5 1307.8 L714.7 1312.8 L707.7 1315.3 L700.2 1316.6 L696.4 1319.1 L695.9 1324.1 L696.6 1321.5 L694.1 1324.0 L687.9 1326.5 L680.4 1329.0 L671.6 1334.0 L666.6 1340.3 L664.1 1347.8 L662.8 1356.5 L657.8 1357.8 L650.3 1354.8 L643.3 1352.0 L643.3 1352.0 L634.0 1349.0 L625.2 1348.3 L617.7 1346.5 L613.9 1342.8 L608.9 1337.7 L603.9 1332.7 L597.6 1329.0 L590.1 1326.5 L583.9 1323.2 L584.9 1324.1 L584.1 1320.3 L581.6 1312.8 L580.4 1305.3 L582.9 1299.0 L579.1 1292.7 L574.1 1286.5 L567.8 1280.2 L562.8 1275.2 L564.1 1271.4 L562.8 1263.9 L557.8 1256.4 L551.5 1250.1 L548.3 1243.9 L549.3 1238.8 Z"/>
<path fill="#A9E5A0" stroke="#A9E5A0" d="M430.3 1327.7 L436.6 1326.5 L442.9 1321.5 L445.0 1320.1 L451.3 1318.8 L457.6 1320.1 L463.8 1313.8 L471.4 1315.1 L480.1 1315.6 L488.9 1315.1 L493.9 1310.1 L498.9 1303.8 L501.4 1295.0 L502.7 1287.5 L501.4 1287.7 L502.7 1278.9 L507.7 1275.2 L515.2 1273.9 L524.0 1274.7 L530.2 1272.7 L534.0 1266.4 L536.5 1260.2 L540.3 1253.9 L544.0 1248.9 L548.3 1243.9 L549.3 1238.8 L549.3 1238.8 L548.3 1243.9 L551.5 1250.1 L557.8 1256.4 L562.8 1263.9 L564.1 1271.4 L562.8 1275.2 L567.8 1280.2 L574.1 1286.5 L579.1 1292.7 L582.9 1299.0 L580.4 1305.3 L581.6 1312.8 L584.1 1320.3 L584.9 1324.1 L583.4 1323.1 L585.4 1330.1 L587.9 1336.4 L587.4 1342.7 L580.4 1345.7 L574.1 1347.2 L566.6 1345.7 L560.3 1342.7 L554.1 1343.9 L549.0 1347.7 L544.0 1350.2 L539.0 1353.9 L532.8 1351.4 L526.5 1350.2 L520.2 1352.7 L517.7 1358.9 L510.2 1361.5 L500.2 1363.2 L490.2 1364.0 L480.1 1364.0 L472.6 1366.5 L471.4 1372.7 L467.6 1377.7 L457.6 1380.3 L447.5 1384.0 L441.5 1387.3 L442.4 1386.6 L440.4 1377.8 L437.3 1370.3 L432.8 1362.8 L427.8 1355.3 L425.3 1347.8 L423.3 1340.3 L425.3 1334.0 L430.3 1327.7 Z"/>
<path fill="#A9E5A0" stroke="#A9E5A0" d="M441.5 1387.3 L447.5 1384.0 L457.6 1380.3 L467.6 1377.7 L471.4 1372.7 L472.6 1366.5 L480.1 1364.0 L490.2 1364.0 L500.2 1363.2 L510.2 1361.5 L517.7 1358.9 L520.2 1352.7 L526.5 1350.2 L532.8 1351.4 L539.0 1353.9 L544.0 1350.2 L549.0 1347.7 L554.1 1343.9 L560.3 1342.7 L566.6 1345.7 L574.1 1347.2 L580.4 1345.7 L587.4 1342.7 L587.9 1336.4 L585.4 1330.1 L583.4 1323.1 L583.9 1323.2 L590.1 1326.5 L597.6 1329.0 L603.9 1332.7 L608.9 1337.7 L613.9 1342.8 L617.7 1346.5 L625.2 1348.3 L634.0 1349.0 L643.3 1352.0 L643.3 1352.0 L640.3 1357.8 L634.0 1358.3 L627.7 1360.3 L630.2 1364.1 L636.5 1365.3 L632.7 1370.3 L626.5 1375.3 L624.2 1381.5 L622.5 1390.3 L625.0 1400.3 L621.7 1409.1 L614.2 1415.3 L606.7 1420.4 L602.4 1426.6 L601.7 1424.6 L601.7 1425.1 L596.7 1420.1 L590.4 1423.8 L582.9 1426.3 L580.4 1433.8 L575.4 1437.6 L566.6 1438.8 L559.1 1437.6 L554.1 1442.6 L550.3 1438.8 L545.3 1440.1 L540.3 1437.6 L535.3 1428.8 L531.5 1422.6 L526.5 1416.3 L520.2 1415.0 L514.0 1413.8 L505.2 1411.3 L501.4 1407.5 L495.2 1406.3 L487.6 1409.5 L478.9 1411.3 L470.1 1410.5 L461.3 1410.0 L455.1 1413.8 L456.6 1412.6 L452.9 1411.3 L446.6 1410.1 L440.4 1406.3 L435.3 1405.1 L429.1 1406.3 L429.1 1406.3 L428.3 1401.3 L430.3 1396.3 L435.3 1391.3 L440.4 1388.8 L441.6 1387.0 Z"/>
<path fill="#FFD066" stroke="#FFD066" d="M690.7 1245.7 L697.7 1241.4 L705.2 1236.4 L712.7 1232.6 L720.3 1230.1 L726.5 1228.1 L726.5 1228.1 L731.5 1223.9 L737.8 1221.4 L745.3 1222.1 L752.8 1223.9 L759.1 1228.9 L765.4 1231.4 L771.6 1233.9 L776.6 1233.9 L782.9 1230.1 L790.4 1227.6 L797.9 1223.9 L795.0 1223.9 L803.8 1220.1 L810.1 1216.3 L814.6 1215.1 L818.8 1218.8 L822.6 1223.9 L826.4 1231.4 L831.4 1238.9 L837.6 1242.7 L843.9 1247.7 L848.2 1253.2 L848.2 1253.2 L848.9 1260.2 L847.2 1267.7 L847.7 1275.2 L845.7 1282.8 L844.7 1290.3 L846.4 1297.8 L847.2 1305.3 L847.2 1309.1 L846.7 1309.5 L841.7 1311.3 L835.4 1310.0 L830.4 1312.5 L827.9 1318.8 L822.9 1323.8 L819.1 1330.1 L815.3 1336.3 L809.1 1340.1 L805.3 1343.9 L800.3 1347.6 L794.0 1348.9 L789.8 1352.6 L790.3 1358.9 L792.8 1363.9 L792.8 1363.9 L790.3 1361.4 L785.3 1360.2 L779.0 1361.4 L774.0 1365.2 L770.2 1368.9 L769.0 1365.2 L766.5 1358.9 L761.5 1353.9 L756.4 1350.1 L752.7 1345.1 L748.9 1338.8 L742.7 1337.6 L735.1 1338.1 L727.6 1337.1 L721.4 1333.8 L716.3 1328.8 L710.1 1325.1 L702.6 1323.8 L696.3 1322.6 L695.9 1324.1 L696.4 1319.1 L700.2 1316.6 L707.7 1315.3 L714.7 1312.8 L716.5 1307.8 L712.7 1304.1 L714.0 1297.8 L719.0 1294.0 L720.3 1289.0 L717.7 1282.8 L711.5 1280.3 L707.7 1276.5 L705.2 1270.2 L698.9 1266.5 L691.4 1264.0 L687.7 1260.2 L688.9 1252.7 L690.7 1245.7 Z"/>
<path fill="#FFD066" stroke="#FFD066" d="M848.2 1253.2 L852.7 1251.4 L856.4 1248.9 L857.7 1242.7 L860.2 1240.7 L864.0 1244.7 L870.2 1247.7 L879.0 1250.2 L887.8 1252.7 L896.5 1255.2 L902.8 1253.9 L906.6 1250.2 L910.3 1255.2 L916.6 1258.9 L924.1 1260.2 L929.1 1262.7 L934.1 1267.7 L940.4 1269.7 L946.7 1269.0 L951.7 1265.2 L956.7 1266.5 L955.4 1271.5 L954.2 1276.5 L958.4 1281.5 L960.5 1287.8 L959.2 1295.3 L955.4 1300.3 L950.4 1305.3 L945.4 1310.3 L942.4 1315.3 L944.2 1320.4 L950.4 1322.9 L956.7 1324.1 L961.0 1323.4 L957.9 1327.9 L952.9 1330.4 L946.7 1332.9 L944.2 1336.6 L942.4 1341.3 L944.2 1347.6 L952.9 1348.8 L955.4 1355.1 L957.9 1362.6 L956.7 1368.9 L961.7 1371.4 L961.0 1378.9 L959.2 1386.4 L957.9 1395.2 L956.7 1404.0 L955.4 1407.7 L940.4 1408.2 L927.9 1408.2 L917.3 1408.2 L917.3 1408.2 L916.6 1400.2 L910.3 1397.7 L904.1 1395.2 L899.0 1390.2 L892.8 1385.2 L887.8 1378.9 L882.8 1371.4 L876.5 1366.4 L874.0 1358.8 L871.5 1351.3 L870.2 1343.8 L866.5 1336.3 L861.5 1331.3 L856.4 1326.3 L869.0 1337.9 L865.2 1332.9 L858.9 1329.1 L856.4 1322.9 L855.2 1316.6 L851.4 1311.6 L847.2 1309.1 L847.2 1309.1 L847.2 1305.3 L846.4 1297.8 L844.7 1290.3 L845.7 1282.8 L847.7 1275.2 L847.2 1267.7 L848.9 1260.2 L848.2 1253.2 Z"/>
<path fill="#FFAA5C" stroke="#FFAA5C" d="M847.2 1309.1 L851.4 1311.6 L855.2 1316.6 L856.4 1322.9 L858.9 1329.1 L865.2 1332.9 L869.0 1337.9 L856.4 1326.3 L861.5 1331.3 L866.5 1336.3 L870.2 1343.8 L871.5 1351.3 L874.0 1358.8 L876.5 1366.4 L882.8 1371.4 L887.8 1378.9 L892.8 1385.2 L899.0 1390.2 L904.1 1395.2 L910.3 1397.7 L916.6 1400.2 L917.3 1408.2 L917.3 1408.2 L910.3 1409.7 L905.3 1413.2 L904.1 1420.3 L900.3 1426.5 L894.0 1430.3 L887.8 1432.8 L882.8 1436.5 L880.3 1442.8 L881.5 1450.3 L880.3 1456.6 L879.0 1461.6 L882.8 1465.4 L880.3 1470.4 L875.5 1475.1 L868.0 1476.3 L859.2 1477.6 L850.4 1478.8 L842.9 1482.6 L836.6 1487.6 L830.4 1491.4 L824.1 1493.9 L817.3 1497.1 L817.3 1497.1 L819.1 1493.9 L820.4 1488.9 L817.8 1483.9 L812.8 1478.8 L809.1 1473.8 L808.8 1475.4 L811.3 1470.4 L815.1 1465.4 L818.8 1460.4 L822.6 1456.6 L821.4 1451.6 L815.1 1447.8 L807.6 1444.1 L801.3 1442.8 L798.8 1437.8 L793.8 1431.5 L788.8 1426.5 L785.5 1422.3 L784.8 1424.6 L786.5 1421.6 L789.0 1416.5 L787.8 1410.3 L791.5 1405.3 L797.8 1402.8 L802.8 1399.0 L804.1 1392.7 L801.6 1386.5 L798.3 1380.2 L797.8 1372.7 L799.8 1365.7 L796.5 1367.7 L792.8 1363.9 L792.8 1363.9 L790.3 1358.9 L789.8 1352.6 L794.0 1348.9 L800.3 1347.6 L805.3 1343.9 L809.1 1340.1 L815.3 1336.3 L819.1 1330.1 L822.9 1323.8 L827.9 1318.8 L830.4 1312.5 L835.4 1310.0 L841.7 1311.3 L846.7 1309.5 Z"/>
<path fill="#F5E064" stroke="#F5E064" d="M643.3 1352.0 L650.3 1354.8 L657.8 1357.8 L662.8 1356.5 L664.1 1347.8 L666.6 1340.3 L671.6 1334.0 L680.4 1329.0 L687.9 1326.5 L694.1 1324.0 L696.6 1321.5 L696.3 1322.6 L702.6 1323.8 L710.1 1325.1 L716.3 1328.8 L721.4 1333.8 L727.6 1337.1 L735.1 1338.1 L742.7 1337.6 L748.9 1338.8 L752.7 1345.1 L756.4 1350.1 L761.5 1353.9 L766.5 1358.9 L769.0 1365.2 L770.2 1368.9 L774.0 1365.2 L779.0 1361.4 L785.3 1360.2 L790.3 1361.4 L792.8 1363.9 L792.8 1363.9 L796.5 1367.7 L799.8 1365.7 L797.8 1372.7 L798.3 1380.2 L801.6 1386.5 L804.1 1392.7 L802.8 1399.0 L797.8 1402.8 L791.5 1405.3 L787.8 1410.3 L789.0 1416.5 L786.5 1421.6 L784.8 1424.6 L784.8 1424.6 L779.0 1425.3 L772.7 1424.8 L766.5 1425.3 L762.7 1421.6 L760.2 1415.3 L755.2 1410.3 L748.9 1407.8 L742.7 1408.3 L736.4 1405.3 L730.1 1406.5 L723.9 1409.0 L717.6 1407.8 L710.1 1408.3 L702.6 1409.0 L696.3 1411.5 L695.3 1417.5 L698.3 1423.8 L697.3 1430.1 L699.1 1435.1 L701.6 1441.4 L700.9 1447.6 L700.4 1453.9 L696.6 1454.6 L687.8 1453.9 L679.0 1455.1 L672.8 1458.9 L666.5 1460.7 L666.5 1460.7 L656.5 1460.2 L647.7 1459.6 L640.2 1461.4 L632.7 1458.9 L627.7 1456.4 L622.7 1458.9 L617.6 1460.2 L610.1 1457.6 L604.1 1454.6 L604.2 1453.9 L600.4 1448.9 L600.9 1442.6 L602.9 1433.8 L601.7 1425.1 L601.7 1424.6 L602.4 1426.6 L606.7 1420.4 L614.2 1415.3 L621.7 1409.1 L625.0 1400.3 L622.5 1390.3 L624.2 1381.5 L626.5 1375.3 L632.7 1370.3 L636.5 1365.3 L630.2 1364.1 L627.7 1360.3 L634.0 1358.3 L640.3 1357.8 L643.3 1352.0 Z"/>
<path fill="#F5E064" stroke="#F5E064" d="M666.5 1460.7 L672.8 1458.9 L679.0 1455.1 L687.8 1453.9 L696.6 1454.6 L700.4 1453.9 L700.9 1447.6 L701.6 1441.4 L699.1 1435.1 L697.3 1430.1 L698.3 1423.8 L695.3 1417.5 L696.3 1411.5 L702.6 1409.0 L710.1 1408.3 L717.6 1407.8 L723.9 1409.0 L730.1 1406.5 L736.4 1405.3 L742.7 1408.3 L748.9 1407.8 L755.2 1410.3 L760.2 1415.3 L762.7 1421.6 L766.5 1425.3 L772.7 1424.8 L779.0 1425.3 L784.8 1424.6 L785.5 1422.3 L788.8 1426.5 L793.8 1431.5 L798.8 1437.8 L801.3 1442.8 L807.6 1444.1 L815.1 1447.8 L821.4 1451.6 L822.6 1456.6 L818.8 1460.4 L815.1 1465.4 L811.3 1470.4 L808.8 1475.4 L809.1 1473.8 L812.8 1478.8 L817.8 1483.9 L820.4 1488.9 L819.1 1493.9 L817.3 1497.1 L817.3 1497.1 L810.3 1502.7 L805.3 1507.7 L797.8 1510.2 L790.3 1513.9 L784.0 1518.9 L777.7 1520.2 L770.2 1519.7 L762.7 1522.7 L755.2 1526.5 L748.9 1532.7 L742.7 1539.0 L736.4 1544.0 L731.4 1547.8 L728.9 1549.0 L727.1 1542.8 L724.6 1544.0 L723.1 1550.3 L717.6 1551.5 L717.1 1552.0 L716.6 1551.6 L715.4 1545.4 L710.4 1540.4 L702.9 1535.3 L696.6 1530.3 L692.8 1524.1 L694.1 1517.8 L697.3 1511.5 L696.6 1505.3 L690.3 1501.5 L685.3 1495.2 L683.3 1487.7 L681.6 1480.2 L677.8 1475.2 L671.5 1473.9 L667.8 1467.7 L666.5 1460.7 Z"/>
<path fill="#A5F0CB" stroke="#A5F0CB" d="M604.1 1454.6 L610.1 1457.6 L617.6 1460.2 L622.7 1458.9 L627.7 1456.4 L632.7 1458.9 L640.2 1461.4 L647.7 1459.6 L656.5 1460.2 L666.5 1460.7 L666.5 1460.7 L667.8 1467.7 L671.5 1473.9 L677.8 1475.2 L681.6 1480.2 L683.3 1487.7 L685.3 1495.2 L690.3 1501.5 L696.6 1505.3 L697.3 1511.5 L694.1 1517.8 L692.8 1524.1 L696.6 1530.3 L702.9 1535.3 L710.4 1540.4 L715.4 1545.4 L716.6 1551.6 L716.5 1552.2 L711.7 1555.2 L706.7 1560.2 L700.5 1564.0 L690.4 1564.7 L680.4 1562.7 L672.9 1560.2 L667.9 1555.2 L662.9 1558.9 L652.8 1560.2 L642.8 1561.5 L637.3 1564.0 L635.3 1570.2 L630.3 1574.0 L625.3 1571.5 L620.3 1567.7 L619.0 1562.7 L616.5 1564.0 L612.7 1567.2 L606.5 1567.7 L597.7 1569.0 L587.7 1571.5 L577.6 1573.2 L570.1 1571.5 L565.1 1566.5 L557.6 1562.7 L547.6 1560.2 L540.1 1557.2 L546.3 1555.2 L552.6 1552.7 L551.3 1547.7 L545.1 1545.2 L542.1 1541.4 L547.6 1540.2 L557.6 1539.6 L568.9 1540.2 L573.9 1537.1 L568.9 1533.9 L560.1 1531.4 L552.6 1528.9 L546.6 1525.4 L546.5 1525.3 L550.3 1524.1 L556.6 1522.8 L562.8 1520.3 L569.1 1516.5 L577.9 1515.3 L585.4 1512.3 L592.9 1512.8 L597.9 1510.3 L602.9 1506.5 L601.7 1501.5 L597.4 1497.7 L598.4 1491.5 L602.9 1487.7 L606.7 1482.7 L604.9 1476.4 L602.9 1470.2 L605.4 1467.7 L606.7 1461.4 L604.2 1453.9 Z"/>
<path fill="#BFD163" stroke="#BFD163" d="M455.1 1413.8 L461.3 1410.0 L470.1 1410.5 L478.9 1411.3 L487.6 1409.5 L495.2 1406.3 L501.4 1407.5 L505.2 1411.3 L514.0 1413.8 L520.2 1415.0 L526.5 1416.3 L531.5 1422.6 L535.3 1428.8 L540.3 1437.6 L545.3 1440.1 L550.3 1438.8 L554.1 1442.6 L559.1 1437.6 L566.6 1438.8 L575.4 1437.6 L580.4 1433.8 L582.9 1426.3 L590.4 1423.8 L596.7 1420.1 L601.7 1425.1 L601.7 1425.1 L602.9 1433.8 L600.9 1442.6 L600.4 1448.9 L604.2 1453.9 L604.2 1453.9 L606.7 1461.4 L605.4 1467.7 L602.9 1470.2 L604.9 1476.4 L606.7 1482.7 L602.9 1487.7 L598.4 1491.5 L597.4 1497.7 L601.7 1501.5 L602.9 1506.5 L597.9 1510.3 L592.9 1512.8 L585.4 1512.3 L577.9 1515.3 L569.1 1516.5 L562.8 1520.3 L556.6 1522.8 L550.3 1524.1 L546.5 1525.3 L546.5 1525.3 L544.0 1520.3 L545.8 1514.0 L547.8 1507.8 L544.0 1512.8 L541.5 1519.0 L539.0 1525.3 L535.3 1529.1 L530.3 1530.3 L526.5 1527.8 L525.2 1524.1 L522.7 1529.1 L519.0 1532.8 L514.0 1531.6 L508.9 1530.3 L506.4 1531.6 L506.4 1531.6 L503.9 1526.6 L502.7 1520.3 L498.9 1515.3 L496.4 1509.0 L500.2 1505.3 L505.2 1504.0 L509.7 1500.3 L506.4 1495.2 L502.7 1490.2 L501.4 1485.2 L497.7 1478.9 L491.4 1471.4 L486.4 1465.7 L483.9 1458.9 L480.1 1453.9 L471.4 1453.1 L463.8 1450.1 L461.3 1443.9 L458.8 1435.1 L456.3 1427.6 L453.8 1420.1 L455.1 1413.8 Z"/>
<path fill="#A9E5A0" stroke="#A9E5A0" d="M386.5 1420.1 L389.0 1415.1 L394.0 1409.6 L399.0 1413.8 L405.3 1415.1 L411.5 1412.6 L417.8 1415.1 L424.1 1412.6 L429.1 1406.3 L429.1 1406.3 L435.3 1405.1 L440.4 1406.3 L446.6 1410.1 L452.9 1411.3 L456.6 1412.6 L455.1 1413.8 L453.8 1420.1 L456.3 1427.6 L458.8 1435.1 L461.3 1443.9 L463.8 1450.1 L471.4 1453.1 L480.1 1453.9 L483.9 1458.9 L486.4 1465.7 L491.4 1471.4 L497.7 1478.9 L501.4 1485.2 L502.7 1490.2 L506.4 1495.2 L509.7 1500.3 L505.2 1504.0 L500.2 1505.3 L496.4 1509.0 L498.9 1515.3 L502.7 1520.3 L503.9 1526.6 L506.4 1531.6 L502.9 1531.3 L495.4 1533.8 L486.6 1536.3 L484.1 1540.1 L482.9 1547.6 L479.1 1553.9 L475.4 1560.2 L471.6 1566.4 L467.8 1570.2 L464.1 1563.9 L457.8 1557.6 L451.6 1550.9 L447.8 1550.9 L447.3 1553.9 L449.8 1559.6 L455.3 1563.9 L460.3 1568.9 L462.3 1575.2 L460.3 1580.2 L455.3 1585.2 L447.8 1591.5 L440.3 1596.5 L434.0 1600.3 L429.7 1602.8 L430.3 1609.0 L425.2 1610.3 L424.0 1605.3 L422.7 1599.0 L420.2 1602.8 L418.2 1610.3 L419.0 1617.8 L421.5 1622.8 L425.7 1627.8 L425.2 1635.3 L423.2 1641.6 L422.7 1636.6 L419.0 1632.8 L414.0 1630.3 L402.7 1629.8 L390.2 1630.3 L380.1 1631.6 L373.9 1635.3 L371.4 1640.4 L363.8 1639.1 L355.1 1635.3 L348.8 1630.3 L345.0 1625.3 L342.5 1619.0 L355.1 1617.8 L359.6 1614.0 L358.1 1607.8 L361.3 1602.8 L367.6 1597.7 L372.6 1592.7 L373.9 1586.5 L380.1 1584.0 L386.4 1580.2 L388.1 1572.7 L387.6 1566.4 L383.9 1561.4 L385.6 1556.4 L384.6 1550.1 L386.4 1544.6 L391.4 1541.4 L396.4 1538.8 L397.7 1545.1 L401.4 1550.1 L403.9 1547.6 L407.7 1546.4 L412.7 1548.9 L416.5 1553.9 L421.5 1552.6 L425.2 1547.6 L429.0 1548.9 L432.8 1555.1 L437.8 1553.9 L442.8 1551.9 L445.8 1549.6 L441.5 1544.6 L437.8 1538.8 L439.8 1531.3 L439.0 1521.3 L439.1 1522.9 L434.1 1515.3 L427.8 1510.3 L422.8 1505.3 L421.6 1497.8 L418.3 1491.5 L420.3 1482.8 L419.0 1475.2 L415.3 1474.0 L411.5 1476.5 L409.0 1470.2 L405.3 1466.5 L400.3 1464.0 L397.7 1458.9 L399.0 1452.7 L400.3 1446.4 L401.5 1440.2 L402.8 1433.9 L400.3 1427.6 L396.5 1422.6 L391.5 1422.6 L386.5 1420.1 Z"/>
</g>
<g stroke="#fff" stroke-width="2" fill="none" stroke-linejoin="round" stroke-linecap="round">
<path d="M231.5 1103.1 L233.3 1107.1 L230.3 1112.6 L228.3 1120.1 L227.8 1130.1 L229.0 1140.2 L230.3 1147.2 L235.8 1145.7 L240.3 1148.9 L244.1 1155.2 L248.3 1160.2 L250.3 1166.5 L247.8 1171.5 L250.3 1175.2 L247.8 1179.0 L244.1 1181.5 L246.6 1185.3 L242.8 1190.3 L239.8 1195.8 L237.8 1202.8 L230.3 1201.6 L222.8 1200.3 L214.0 1202.8 L206.5 1206.6 L200.7 1211.6 L199.7 1220.4 L200.7 1227.4"/>
<path d="M155.1 1200.8 L161.4 1202.8 L168.9 1204.1 L173.9 1210.3 L180.2 1216.6 L187.7 1220.4 L195.2 1224.9 L200.7 1227.4"/>
<path d="M331.6 1138.9 L326.6 1143.9 L322.3 1147.7 L323.3 1152.7 L319.8 1156.4 L317.8 1162.7 L314.0 1169.0 L310.3 1175.2 L306.5 1179.0 L305.3 1187.8 L306.5 1197.8 L304.8 1207.8 L304.0 1214.1"/>
<path d="M254.7 1240.2 L261.5 1240.2 L267.7 1236.4 L274.0 1231.4 L279.0 1226.4 L284.0 1221.4 L290.3 1217.6 L296.5 1215.1 L300.3 1213.8 L304.6 1215.1"/>
<path d="M209.6 1252.7 L213.8 1247.7 L217.6 1243.2 L223.9 1240.9 L233.9 1238.1 L243.9 1235.1 L250.2 1236.4 L254.7 1240.2"/>
<path d="M199.9 1227.1 L202.9 1231.4 L203.4 1237.6 L205.4 1243.9 L209.4 1252.7"/>
<path d="M412.3 1164.7 L410.3 1167.7 L411.5 1172.7 L416.5 1176.4 L418.3 1181.5 L417.3 1186.5 L415.3 1190.2 L417.8 1196.5 L419.8 1202.8 L419.0 1210.3 L420.3 1217.8 L419.0 1225.3 L421.6 1231.6 L425.3 1237.8 L427.8 1245.4 L427.8 1246.3 L429.1 1255.0 L430.3 1262.6 L426.6 1270.1 L420.3 1276.3 L415.8 1280.1 L415.3 1286.4 L417.3 1292.1"/>
<path d="M333.8 1280.1 L342.6 1279.6 L352.6 1280.1 L361.4 1278.8 L370.2 1277.6 L377.7 1275.1 L384.0 1272.6 L389.0 1275.1 L390.2 1282.6 L390.7 1290.1 L394.0 1295.1 L400.3 1295.6 L407.8 1293.9 L414.0 1292.6 L417.3 1292.1"/>
<path d="M304.6 1215.1 L305.3 1221.4 L306.6 1227.6 L311.6 1232.6 L316.6 1238.9 L322.9 1243.9 L324.9 1252.7 L324.1 1260.2 L327.9 1267.7 L330.4 1275.2 L334.1 1280.3"/>
<path d="M76.4 1317.0 L78.9 1327.6 L83.9 1332.6 L91.4 1337.6 L98.9 1341.4 L105.2 1344.6 L108.9 1345.1"/>
<path d="M174.9 1286.5 L169.1 1287.8 L164.1 1287.3 L159.1 1290.3 L157.8 1296.5 L158.3 1302.8 L154.1 1305.3 L159.1 1308.8 L157.8 1312.5 L150.3 1315.0 L140.3 1316.3 L130.3 1317.0 L120.2 1318.8 L114.0 1323.8 L110.7 1330.1 L110.2 1337.6 L108.9 1345.1"/>
<path d="M209.4 1252.7 L211.0 1256.4 L209.2 1260.2 L205.4 1264.0 L199.2 1266.5 L194.2 1269.0 L191.7 1274.0 L186.6 1277.7 L180.4 1281.5 L174.9 1286.5"/>
<path d="M254.7 1240.2 L253.9 1246.4 L251.4 1253.9 L249.7 1262.7 L250.2 1271.5 L251.4 1280.3 L249.7 1287.8 L247.7 1295.3 L248.2 1305.3 L249.7 1305.0 L249.0 1315.0 L248.2 1325.1 L247.7 1335.1 L247.7 1345.1 L247.2 1355.1 L247.7 1365.2 L247.7 1373.2"/>
<path d="M213.9 1367.7 L220.2 1367.2 L226.4 1365.7 L231.4 1367.7 L235.2 1365.7 L240.2 1371.4 L247.7 1373.2"/>
<path d="M214.2 1367.7 L211.7 1360.2 L209.2 1352.6 L205.4 1347.6 L200.4 1345.1 L195.4 1346.4 L191.7 1341.4 L189.1 1335.1 L184.1 1330.1 L180.4 1325.1 L181.6 1320.1 L177.9 1313.8 L176.6 1306.3 L180.4 1312.8 L177.9 1297.8 L174.9 1286.5"/>
<path d="M334.1 1280.3 L330.4 1285.3 L329.9 1292.8 L330.4 1300.3 L330.4 1305.0 L332.4 1312.5 L332.9 1321.3 L330.4 1327.6 L322.9 1329.6 L315.4 1330.1 L310.4 1333.8 L307.9 1342.6 L306.6 1352.6 L307.9 1362.7 L310.4 1369.7"/>
<path d="M247.7 1373.2 L255.2 1373.9 L260.3 1375.2 L262.8 1378.9 L266.5 1375.2 L269.0 1371.4 L275.3 1370.2 L282.8 1372.2 L290.3 1373.2 L297.8 1371.4 L305.4 1368.9 L310.4 1369.7"/>
<path d="M108.9 1345.1 L112.7 1348.9 L116.5 1353.9 L121.5 1358.9 L125.2 1365.7 L130.3 1367.2 L134.0 1365.7 L135.8 1370.2 L135.3 1375.2 L140.3 1377.2 L146.5 1380.2 L151.6 1385.2 L154.8 1391.5 L155.3 1399.0 L157.8 1405.3 L158.3 1410.3"/>
<path d="M175.4 1428.3 L175.4 1420.3 L174.9 1412.8 L176.6 1405.3 L182.9 1399.0 L190.4 1392.7 L197.9 1386.5 L205.4 1381.5 L210.5 1377.7 L214.2 1372.7 L214.2 1367.7"/>
<path d="M310.4 1369.7 L311.6 1375.2 L310.9 1384.0"/>
<path d="M417.3 1292.1 L419.8 1300.2 L421.6 1307.7 L419.0 1313.9 L422.8 1317.7 L426.6 1322.7 L430.3 1327.7"/>
<path d="M430.3 1327.7 L425.3 1334.0 L423.3 1340.3 L425.3 1347.8 L427.8 1355.3 L432.8 1362.8 L437.3 1370.3 L440.4 1377.8 L442.4 1386.6"/>
<path d="M429.1 1406.3 L428.3 1401.3 L430.3 1396.3 L435.3 1391.3 L440.4 1388.8 L441.6 1387.0"/>
<path d="M386.5 1420.1 L389.0 1415.1 L394.0 1409.6 L399.0 1413.8 L405.3 1415.1 L411.5 1412.6 L417.8 1415.1 L424.1 1412.6 L429.1 1406.3"/>
<path d="M473.0 1160.2 L472.5 1167.7 L472.0 1175.2 L473.0 1184.0 L477.0 1188.2 L480.1 1195.2 L482.1 1201.5 L487.6 1203.3 L495.1 1204.0 L502.6 1205.3 L511.4 1207.8 L520.2 1210.3 L527.7 1215.3 L532.7 1217.8 L536.4 1215.8 L540.2 1219.0 L544.0 1224.1 L542.7 1229.1 L546.5 1234.1 L549.0 1238.3"/>
<path d="M430.3 1327.7 L436.6 1326.5 L442.9 1321.5 L445.0 1320.1 L451.3 1318.8 L457.6 1320.1 L463.8 1313.8 L471.4 1315.1 L480.1 1315.6 L488.9 1315.1 L493.9 1310.1 L498.9 1303.8 L501.4 1295.0 L502.7 1287.5 L501.4 1287.7 L502.7 1278.9 L507.7 1275.2 L515.2 1273.9 L524.0 1274.7 L530.2 1272.7 L534.0 1266.4 L536.5 1260.2 L540.3 1253.9 L544.0 1248.9 L548.3 1243.9 L549.3 1238.8"/>
<path d="M609.5 1075.5 L608.0 1081.3 L607.5 1087.6 L611.3 1093.8 L612.1 1098.8 L608.8 1102.6 L606.3 1108.9 L601.3 1112.6 L597.5 1116.4 L595.5 1122.7 L598.8 1130.2 L599.5 1137.7 L598.0 1145.2 L598.8 1152.7 L598.0 1160.3 L596.3 1165.3 L592.5 1169.0 L591.3 1175.3 L595.0 1179.0 L600.0 1181.6 L601.3 1187.8 L600.0 1194.1 L598.8 1200.4 L600.0 1207.9 L600.5 1215.4 L597.8 1221.6"/>
<path d="M549.0 1238.3 L554.0 1237.3 L560.3 1236.6 L567.8 1235.3 L576.5 1234.1 L585.3 1232.8 L590.3 1229.1 L594.1 1224.1 L597.8 1221.6"/>
<path d="M690.7 1245.7 L697.7 1241.4 L705.2 1236.4 L712.7 1232.6 L720.3 1230.1 L726.5 1228.1"/>
<path d="M597.8 1221.6 L604.1 1219.8 L611.6 1220.3 L620.4 1219.0 L627.5 1222.6 L635.0 1221.4 L642.6 1220.1 L648.8 1221.4 L653.8 1218.8 L657.6 1223.9 L660.1 1230.1 L663.9 1236.4 L667.6 1242.7 L670.1 1247.7 L677.6 1248.9 L685.2 1247.2 L690.7 1245.7"/>
<path d="M690.7 1245.7 L688.9 1252.7 L687.7 1260.2 L691.4 1264.0 L698.9 1266.5 L705.2 1270.2 L707.7 1276.5 L711.5 1280.3 L717.7 1282.8 L720.3 1289.0 L719.0 1294.0 L714.0 1297.8 L712.7 1304.1 L716.5 1307.8 L714.7 1312.8 L707.7 1315.3 L700.2 1316.6 L696.4 1319.1 L695.9 1324.1"/>
<path d="M643.3 1352.0 L650.3 1354.8 L657.8 1357.8 L662.8 1356.5 L664.1 1347.8 L666.6 1340.3 L671.6 1334.0 L680.4 1329.0 L687.9 1326.5 L694.1 1324.0 L696.6 1321.5"/>
<path d="M583.9 1323.2 L590.1 1326.5 L597.6 1329.0 L603.9 1332.7 L608.9 1337.7 L613.9 1342.8 L617.7 1346.5 L625.2 1348.3 L634.0 1349.0 L643.3 1352.0"/>
<path d="M549.3 1238.8 L548.3 1243.9 L551.5 1250.1 L557.8 1256.4 L562.8 1263.9 L564.1 1271.4 L562.8 1275.2 L567.8 1280.2 L574.1 1286.5 L579.1 1292.7 L582.9 1299.0 L580.4 1305.3 L581.6 1312.8 L584.1 1320.3 L584.9 1324.1"/>
<path d="M441.5 1387.3 L447.5 1384.0 L457.6 1380.3 L467.6 1377.7 L471.4 1372.7 L472.6 1366.5 L480.1 1364.0 L490.2 1364.0 L500.2 1363.2 L510.2 1361.5 L517.7 1358.9 L520.2 1352.7 L526.5 1350.2 L532.8 1351.4 L539.0 1353.9 L544.0 1350.2 L549.0 1347.7 L554.1 1343.9 L560.3 1342.7 L566.6 1345.7 L574.1 1347.2 L580.4 1345.7 L587.4 1342.7 L587.9 1336.4 L585.4 1330.1 L583.4 1323.1"/>
<path d="M643.3 1352.0 L640.3 1357.8 L634.0 1358.3 L627.7 1360.3 L630.2 1364.1 L636.5 1365.3 L632.7 1370.3 L626.5 1375.3 L624.2 1381.5 L622.5 1390.3 L625.0 1400.3 L621.7 1409.1 L614.2 1415.3 L606.7 1420.4 L602.4 1426.6 L601.7 1424.6"/>
<path d="M455.1 1413.8 L461.3 1410.0 L470.1 1410.5 L478.9 1411.3 L487.6 1409.5 L495.2 1406.3 L501.4 1407.5 L505.2 1411.3 L514.0 1413.8 L520.2 1415.0 L526.5 1416.3 L531.5 1422.6 L535.3 1428.8 L540.3 1437.6 L545.3 1440.1 L550.3 1438.8 L554.1 1442.6 L559.1 1437.6 L566.6 1438.8 L575.4 1437.6 L580.4 1433.8 L582.9 1426.3 L590.4 1423.8 L596.7 1420.1 L601.7 1425.1"/>
<path d="M429.1 1406.3 L435.3 1405.1 L440.4 1406.3 L446.6 1410.1 L452.9 1411.3 L456.6 1412.6"/>
<path d="M848.2 1253.2 L848.9 1260.2 L847.2 1267.7 L847.7 1275.2 L845.7 1282.8 L844.7 1290.3 L846.4 1297.8 L847.2 1305.3 L847.2 1309.1"/>
<path d="M846.7 1309.5 L841.7 1311.3 L835.4 1310.0 L830.4 1312.5 L827.9 1318.8 L822.9 1323.8 L819.1 1330.1 L815.3 1336.3 L809.1 1340.1 L805.3 1343.9 L800.3 1347.6 L794.0 1348.9 L789.8 1352.6 L790.3 1358.9 L792.8 1363.9"/>
<path d="M696.3 1322.6 L702.6 1323.8 L710.1 1325.1 L716.3 1328.8 L721.4 1333.8 L727.6 1337.1 L735.1 1338.1 L742.7 1337.6 L748.9 1338.8 L752.7 1345.1 L756.4 1350.1 L761.5 1353.9 L766.5 1358.9 L769.0 1365.2 L770.2 1368.9 L774.0 1365.2 L779.0 1361.4 L785.3 1360.2 L790.3 1361.4 L792.8 1363.9"/>
<path d="M847.2 1309.1 L851.4 1311.6 L855.2 1316.6 L856.4 1322.9 L858.9 1329.1 L865.2 1332.9 L869.0 1337.9 L856.4 1326.3 L861.5 1331.3 L866.5 1336.3 L870.2 1343.8 L871.5 1351.3 L874.0 1358.8 L876.5 1366.4 L882.8 1371.4 L887.8 1378.9 L892.8 1385.2 L899.0 1390.2 L904.1 1395.2 L910.3 1397.7 L916.6 1400.2 L917.3 1408.2"/>
<path d="M785.5 1422.3 L788.8 1426.5 L793.8 1431.5 L798.8 1437.8 L801.3 1442.8 L807.6 1444.1 L815.1 1447.8 L821.4 1451.6 L822.6 1456.6 L818.8 1460.4 L815.1 1465.4 L811.3 1470.4 L808.8 1475.4 L809.1 1473.8 L812.8 1478.8 L817.8 1483.9 L820.4 1488.9 L819.1 1493.9 L817.3 1497.1"/>
<path d="M792.8 1363.9 L796.5 1367.7 L799.8 1365.7 L797.8 1372.7 L798.3 1380.2 L801.6 1386.5 L804.1 1392.7 L802.8 1399.0 L797.8 1402.8 L791.5 1405.3 L787.8 1410.3 L789.0 1416.5 L786.5 1421.6 L784.8 1424.6"/>
<path d="M784.8 1424.6 L779.0 1425.3 L772.7 1424.8 L766.5 1425.3 L762.7 1421.6 L760.2 1415.3 L755.2 1410.3 L748.9 1407.8 L742.7 1408.3 L736.4 1405.3 L730.1 1406.5 L723.9 1409.0 L717.6 1407.8 L710.1 1408.3 L702.6 1409.0 L696.3 1411.5 L695.3 1417.5 L698.3 1423.8 L697.3 1430.1 L699.1 1435.1 L701.6 1441.4 L700.9 1447.6 L700.4 1453.9 L696.6 1454.6 L687.8 1453.9 L679.0 1455.1 L672.8 1458.9 L666.5 1460.7"/>
<path d="M604.1 1454.6 L610.1 1457.6 L617.6 1460.2 L622.7 1458.9 L627.7 1456.4 L632.7 1458.9 L640.2 1461.4 L647.7 1459.6 L656.5 1460.2 L666.5 1460.7"/>
<path d="M601.7 1425.1 L602.9 1433.8 L600.9 1442.6 L600.4 1448.9 L604.2 1453.9"/>
<path d="M666.5 1460.7 L667.8 1467.7 L671.5 1473.9 L677.8 1475.2 L681.6 1480.2 L683.3 1487.7 L685.3 1495.2 L690.3 1501.5 L696.6 1505.3 L697.3 1511.5 L694.1 1517.8 L692.8 1524.1 L696.6 1530.3 L702.9 1535.3 L710.4 1540.4 L715.4 1545.4 L716.6 1551.6"/>
<path d="M604.2 1453.9 L606.7 1461.4 L605.4 1467.7 L602.9 1470.2 L604.9 1476.4 L606.7 1482.7 L602.9 1487.7 L598.4 1491.5 L597.4 1497.7 L601.7 1501.5 L602.9 1506.5 L597.9 1510.3 L592.9 1512.8 L585.4 1512.3 L577.9 1515.3 L569.1 1516.5 L562.8 1520.3 L556.6 1522.8 L550.3 1524.1 L546.5 1525.3"/>
<path d="M455.1 1413.8 L453.8 1420.1 L456.3 1427.6 L458.8 1435.1 L461.3 1443.9 L463.8 1450.1 L471.4 1453.1 L480.1 1453.9 L483.9 1458.9 L486.4 1465.7 L491.4 1471.4 L497.7 1478.9 L501.4 1485.2 L502.7 1490.2 L506.4 1495.2 L509.7 1500.3 L505.2 1504.0 L500.2 1505.3 L496.4 1509.0 L498.9 1515.3 L502.7 1520.3 L503.9 1526.6 L506.4 1531.6"/>
<circle cx="467.4" cy="1226.6" r="9.6" fill="#F5E064"/>
</g>
<text class="h" transform="translate(164.6 1156.9) scale(0.711 1)" font-size="18" stroke="#000" textLength="37.7" lengthAdjust="spacing">22,7</text>
<text class="l" x="164.6" y="1168.6">Волынская обл.</text>
<text class="h" transform="translate(259.6 1143.2) scale(0.706 1)" font-size="18" stroke="#000" textLength="26.9" lengthAdjust="spacing">7,4</text>
<text class="l" x="259.6" y="1154.9">Ровенская</text>
<text class="l" x="259.6" y="1166.8">обл.</text>
<text class="h" transform="translate(322.8 1196.3) scale(0.706 1)" font-size="18" stroke="#000" textLength="26.9" lengthAdjust="spacing">9,7</text>
<text class="l" x="322.8" y="1208.0">Житомирская обл.</text>
<text class="h" transform="translate(276.5 1258.7) scale(0.706 1)" font-size="18" stroke="#000" textLength="26.9" lengthAdjust="spacing">8,8</text>
<text class="l" x="276.5" y="1270.4">Хмельницкая</text>
<text class="l" x="276.5" y="1282.3">обл.</text>
<text class="h" transform="translate(203.8 1301.3) scale(0.706 1)" font-size="18" stroke="#000" textLength="26.9" lengthAdjust="spacing">6,6</text>
<text class="l" x="203.8" y="1313.0">Тернопольская</text>
<text class="l" x="203.8" y="1324.9">обл.</text>
<text class="h" transform="translate(113.5 1256.9) scale(0.711 1)" font-size="18" stroke="#000" textLength="37.7" lengthAdjust="spacing">81,9</text>
<text class="l" x="113.5" y="1268.6">Львовская обл.</text>
<text class="h" transform="translate(73.1 1373.9) scale(0.706 1)" font-size="18" stroke="#000" textLength="26.9" lengthAdjust="spacing">4,5</text>
<text class="l" x="73.1" y="1385.6">Закарпатская</text>
<text class="l" x="73.1" y="1397.5">обл.</text>
<text class="h" transform="translate(154.6 1353.9) scale(0.706 1)" font-size="18" stroke="#000" textLength="26.9" lengthAdjust="spacing">7,8</text>
<text class="l" x="154.6" y="1365.6">Ивано-Франковская</text>
<text class="l" x="154.6" y="1377.5">обл.</text>
<text class="h" transform="translate(215.6 1400.0) scale(0.706 1)" font-size="18" stroke="#000" textLength="26.9" lengthAdjust="spacing">2,2</text>
<text class="l" x="215.6" y="1411.7">Черновицкая</text>
<text class="l" x="215.6" y="1423.6">обл.</text>
<text class="h" transform="translate(339.6 1352.5) scale(0.711 1)" font-size="18" stroke="#000" textLength="37.7" lengthAdjust="spacing">18,4</text>
<text class="l" x="339.6" y="1364.2">Винницкая обл.</text>
<text class="h" transform="translate(446.6 1283.6) scale(0.714 1)" font-size="18" stroke="#000" textLength="48.4" lengthAdjust="spacing">128,6</text>
<text class="l" x="446.6" y="1295.3">Киевская обл.</text>
<text class="h" transform="translate(483.8 1224.5) scale(0.711 1)" font-size="18" stroke="#000" textLength="37.7" lengthAdjust="spacing">73,2</text>
<text class="l" x="483.8" y="1236.2">г. Киев</text>
<text class="h" transform="translate(492.6 1147.4) scale(0.711 1)" font-size="18" stroke="#000" textLength="37.7" lengthAdjust="spacing">20,8</text>
<text class="l" x="492.6" y="1159.1">Черниговская обл.</text>
<text class="h" transform="translate(622.4 1183.2) scale(0.711 1)" font-size="18" stroke="#000" textLength="37.7" lengthAdjust="spacing">86,7</text>
<text class="l" x="622.4" y="1194.9">Сумская обл.</text>
<text class="h" transform="translate(602.9 1274.9) scale(0.711 1)" font-size="18" stroke="#000" textLength="37.7" lengthAdjust="spacing">27,2</text>
<text class="l" x="602.9" y="1286.6">Полтавская обл.</text>
<text class="h" transform="translate(488.9 1333.3) scale(0.711 1)" font-size="18" stroke="#000" textLength="37.7" lengthAdjust="spacing">25,1</text>
<text class="l" x="488.9" y="1345.0">Черкасская обл.</text>
<text class="h" transform="translate(498.9 1385.8) scale(0.711 1)" font-size="18" stroke="#000" textLength="37.7" lengthAdjust="spacing">35,4</text>
<text class="l" x="498.9" y="1397.5">Кировоградская обл.</text>
<text class="h" transform="translate(654.0 1380.9) scale(0.711 1)" font-size="18" stroke="#000" textLength="37.7" lengthAdjust="spacing">72,0</text>
<text class="l" x="654.0" y="1392.6">Днепропетровская обл.</text>
<text class="h" transform="translate(738.3 1272.7) scale(0.714 1)" font-size="18" stroke="#000" textLength="48.4" lengthAdjust="spacing">179,2</text>
<text class="l" x="738.3" y="1284.4">Харьковская обл.</text>
<text class="h" transform="translate(867.2 1290.8) scale(0.714 1)" font-size="18" stroke="#000" textLength="48.4" lengthAdjust="spacing">127,8</text>
<text class="l" x="867.2" y="1302.5">Луганская обл.</text>
<text class="h" transform="translate(818.8 1394.9) scale(0.714 1)" font-size="18" stroke="#000" textLength="48.4" lengthAdjust="spacing">377,2</text>
<text class="l" x="818.8" y="1406.6">Донецкая обл.</text>
<text class="h" transform="translate(710.6 1481.9) scale(0.711 1)" font-size="18" stroke="#000" textLength="37.7" lengthAdjust="spacing">68,0</text>
<text class="l" x="710.6" y="1493.6">Запорожская обл.</text>
<text class="h" transform="translate(606.5 1527.6) scale(0.711 1)" font-size="18" stroke="#000" textLength="37.7" lengthAdjust="spacing">18,8</text>
<text class="l" x="606.5" y="1539.3">Херсонская обл.</text>
<text class="h" transform="translate(522.7 1468.2) scale(0.711 1)" font-size="18" stroke="#000" textLength="37.7" lengthAdjust="spacing">48,7</text>
<text class="l" x="522.7" y="1479.9">Николаевская обл.</text>
<text class="h" transform="translate(392.2 1584.5) scale(0.711 1)" font-size="18" stroke="#000" textLength="37.7" lengthAdjust="spacing">37,2</text>
<text class="l" x="392.2" y="1596.2">Одесская обл.</text>
<defs><clipPath id="c15"><rect x="730" y="1040" width="140" height="70"/><rect x="757.6" y="1109" width="10.9" height="26"/><rect x="782" y="1109" width="80" height="46"/></clipPath></defs>
<text x="743.5" y="1128.8" font-size="107" font-weight="bold" fill="#EB6A6A" stroke="#EB6A6A" stroke-width="2.6" textLength="90.5" lengthAdjust="spacingAndGlyphs" clip-path="url(#c15)">1,5</text>
<text x="741.8" y="1156.1" font-size="13" font-weight="bold" textLength="66.0" lengthAdjust="spacingAndGlyphs">млрд гривен</text>
<text x="741.8" y="1170.8" font-size="12.5" textLength="177.6" lengthAdjust="spacingAndGlyphs">общая задолженность по выплате</text>
<text x="741.8" y="1185.4" font-size="12.5" textLength="190.0" lengthAdjust="spacingAndGlyphs">заработной платы на май 2015 года</text>
<text x="748.6" y="1588.8" font-size="10" font-family="'DejaVu Sans', 'Liberation Sans', sans-serif" fill="#333" textLength="57.0" lengthAdjust="spacingAndGlyphs">млн гривен</text>
<rect x="750.5" y="1603.0" width="32.9" height="13.0" fill="#A5F0CB" />
<rect x="783.4" y="1603.0" width="32.9" height="13.0" fill="#A9E5A0" />
<rect x="816.3" y="1603.0" width="33.0" height="13.0" fill="#BFD163" />
<rect x="849.3" y="1603.0" width="32.9" height="13.0" fill="#F5E064" />
<rect x="882.2" y="1603.0" width="32.9" height="13.0" fill="#FFD066" />
<rect x="915.1" y="1603.0" width="33.4" height="13.0" fill="#FFAA5C" />
<line x1="750.5" y1="1602.0" x2="750.5" y2="1617.0" stroke="#000" stroke-width="1" />
<text class="hc" x="750.5" y="1634.7" font-size="12.5" fill="#333" text-anchor="middle" textLength="5.2" lengthAdjust="spacingAndGlyphs" style="stroke:#333">0</text>
<line x1="783.5" y1="1602.0" x2="783.5" y2="1617.0" stroke="#000" stroke-width="1" />
<text class="hc" transform="translate(783.4 1634.7) scale(0.696 1)" font-size="12.5" fill="#333" text-anchor="middle" textLength="15.0" lengthAdjust="spacing" style="stroke:#333">20</text>
<line x1="816.5" y1="1602.0" x2="816.5" y2="1617.0" stroke="#000" stroke-width="1" />
<text class="hc" transform="translate(816.3 1634.7) scale(0.696 1)" font-size="12.5" fill="#333" text-anchor="middle" textLength="15.0" lengthAdjust="spacing" style="stroke:#333">40</text>
<line x1="849.5" y1="1602.0" x2="849.5" y2="1617.0" stroke="#000" stroke-width="1" />
<text class="hc" transform="translate(849.3 1634.7) scale(0.696 1)" font-size="12.5" fill="#333" text-anchor="middle" textLength="15.0" lengthAdjust="spacing" style="stroke:#333">60</text>
<line x1="882.5" y1="1602.0" x2="882.5" y2="1617.0" stroke="#000" stroke-width="1" />
<text class="hc" transform="translate(882.2 1634.7) scale(0.696 1)" font-size="12.5" fill="#333" text-anchor="middle" textLength="22.4" lengthAdjust="spacing" style="stroke:#333">100</text>
<line x1="915.5" y1="1602.0" x2="915.5" y2="1617.0" stroke="#000" stroke-width="1" />
<text class="hc" transform="translate(915.1 1634.7) scale(0.696 1)" font-size="12.5" fill="#333" text-anchor="middle" textLength="22.4" lengthAdjust="spacing" style="stroke:#333">300</text>
<line x1="948.5" y1="1602.0" x2="948.5" y2="1617.0" stroke="#000" stroke-width="1" />
<text class="hc" transform="translate(948.5 1634.7) scale(0.696 1)" font-size="12.5" fill="#333" text-anchor="middle" textLength="29.9" lengthAdjust="spacing" style="stroke:#333">1500</text>
<text class="h" transform="translate(74.2 1567.2) scale(0.604 1)" font-size="19.6" stroke="#000" textLength="196.0" lengthAdjust="spacing">СРЕДНИЙ РАЗМЕР</text>
<text class="h" transform="translate(74.2 1586.1) scale(0.605 1)" font-size="19.6" stroke="#000" textLength="323.3" lengthAdjust="spacing">МЕСЯЧНОЙ ПЕНСИИ, ГРИВНЫ</text>
<line x1="73.5" y1="1608.0" x2="73.5" y2="1711.0" stroke="#000" stroke-width="1" />
<rect x="74.1" y="1608.4" width="120.7" height="12.6" fill="#FFD166" />
<rect x="74.1" y="1634.5" width="125.6" height="13.0" fill="#EB6A6A" />
<polygon points="204.5,1614.3 219.1,1609.8 219.1,1618.8" fill="#000" />
<rect x="218.6" y="1602.5" width="53.4" height="23.5" fill="#000" />
<text class="h" transform="translate(245.3 1621.3) scale(0.677 1)" font-size="19.5" fill="#fff" text-anchor="middle" textLength="64.1" lengthAdjust="spacing">1581,5</text>
<polygon points="207.8,1642.4 221.3,1637.9 221.3,1646.9" fill="#000" />
<rect x="220.8" y="1630.7" width="53.8" height="23.5" fill="#000" />
<text class="h" transform="translate(247.7 1649.4) scale(0.683 1)" font-size="19.5" fill="#fff" text-anchor="middle" textLength="64.1" lengthAdjust="spacing">1526,1</text>
<text class="h" transform="translate(74.2 1742.1) scale(0.596 1)" font-size="19.6" stroke="#000" textLength="433.2" lengthAdjust="spacing">СРЕДНЕМЕСЯЧНАЯ ЗАРПЛАТА, ГРИВНЫ</text>
<line x1="73.5" y1="1758.0" x2="73.5" y2="2212.0" stroke="#000" stroke-width="1" />
<rect x="120.3" y="1772.0" width="13.2" height="12.5" fill="#EB6A6A" />
<text class="l" x="141.0" y="1781.0">2014 год</text>
<rect x="214.3" y="1772.0" width="13.2" height="12.5" fill="#FFD166" />
<text class="l" x="235.0" y="1781.0">2015 год</text>
<rect x="74.1" y="1805.9" width="316.3" height="13.0" fill="#FFD166" />
<text class="l" x="20.7" y="1815.7">Апрель</text>
<rect x="74.1" y="1830.9" width="306.2" height="13.0" fill="#FFD166" />
<text class="l" x="20.7" y="1840.7">Март</text>
<rect x="74.1" y="1855.9" width="287.4" height="13.0" fill="#FFD166" />
<text class="l" x="20.7" y="1865.7">Февраль</text>
<rect x="74.1" y="1880.9" width="273.0" height="13.0" fill="#FFD166" />
<text class="l" x="20.7" y="1890.7">Январь</text>
<rect x="74.1" y="1905.9" width="317.5" height="13.0" fill="#EB6A6A" />
<text class="l" x="20.7" y="1915.7">Декабрь</text>
<rect x="74.1" y="1930.9" width="279.9" height="13.0" fill="#EB6A6A" />
<text class="l" x="20.7" y="1940.7">Ноябрь</text>
<rect x="74.1" y="1955.9" width="277.4" height="13.0" fill="#EB6A6A" />
<text class="l" x="20.7" y="1965.7">Октябрь</text>
<rect x="74.1" y="1980.9" width="275.5" height="13.0" fill="#EB6A6A" />
<text class="l" x="20.7" y="1990.7">Сентябрь</text>
<rect x="74.1" y="2005.9" width="266.8" height="13.0" fill="#EB6A6A" />
<text class="l" x="20.7" y="2015.7">Август</text>
<rect x="74.1" y="2030.9" width="279.9" height="13.0" fill="#EB6A6A" />
<text class="l" x="20.7" y="2040.7">Июль</text>
<rect x="74.1" y="2055.9" width="284.9" height="13.0" fill="#EB6A6A" />
<text class="l" x="20.7" y="2065.7">Июнь</text>
<rect x="74.1" y="2080.9" width="271.1" height="13.0" fill="#EB6A6A" />
<text class="l" x="20.7" y="2090.7">Май</text>
<rect x="74.1" y="2105.9" width="271.8" height="13.0" fill="#EB6A6A" />
<text class="l" x="20.7" y="2115.7">Апрель</text>
<rect x="74.1" y="2130.9" width="268.0" height="13.0" fill="#EB6A6A" />
<text class="l" x="20.7" y="2140.7">Март</text>
<rect x="74.1" y="2155.9" width="252.3" height="13.0" fill="#EB6A6A" />
<text class="l" x="20.7" y="2165.7">Февраль</text>
<rect x="74.1" y="2180.9" width="249.2" height="13.0" fill="#EB6A6A" />
<text class="l" x="20.7" y="2190.7">Январь</text>
<line x1="73.1" y1="2211.5" x2="447.2" y2="2211.5" stroke="#000" stroke-width="1" />
<line x1="73.5" y1="2206.5" x2="73.5" y2="2212.0" stroke="#000" stroke-width="1" />
<text class="l" x="73.6" y="2231.3">0</text>
<line x1="167.5" y1="2206.5" x2="167.5" y2="2212.0" stroke="#000" stroke-width="1" />
<line x1="260.5" y1="2206.5" x2="260.5" y2="2212.0" stroke="#000" stroke-width="1" />
<text class="l" x="260.0" y="2231.3" textLength="22.0" lengthAdjust="spacingAndGlyphs">2350</text>
<line x1="354.5" y1="2206.5" x2="354.5" y2="2212.0" stroke="#000" stroke-width="1" />
<line x1="446.5" y1="2206.5" x2="446.5" y2="2212.0" stroke="#000" stroke-width="1" />
<text class="l" x="446.7" y="2231.3" textLength="22.0" lengthAdjust="spacingAndGlyphs">4700</text>
<line x1="354.5" y1="2081.0" x2="354.5" y2="2166.0" class="d"/>
<line x1="446.5" y1="1832.0" x2="446.5" y2="1894.0" class="d"/>
<line x1="446.5" y1="1931.0" x2="446.5" y2="2193.0" class="d"/>
<polygon points="397.7,1811.8 411.5,1807.3 411.5,1816.3" fill="#000" />
<rect x="411.0" y="1800.0" width="46.0" height="23.5" fill="#000" />
<text class="h" transform="translate(434.0 1818.8) scale(0.643 1)" font-size="19.5" fill="#fff" text-anchor="middle" textLength="46.6" lengthAdjust="spacing">3998</text>
<polygon points="399.0,1911.7 412.3,1907.2 412.3,1916.2" fill="#000" />
<rect x="411.8" y="1900.0" width="46.0" height="23.5" fill="#000" />
<text class="h" transform="translate(434.8 1918.7) scale(0.643 1)" font-size="19.5" fill="#fff" text-anchor="middle" textLength="46.6" lengthAdjust="spacing">4012</text>
<polygon points="365.9,2061.7 379.5,2057.2 379.5,2066.2" fill="#000" />
<rect x="379.0" y="2049.9" width="45.8" height="23.5" fill="#000" />
<text class="h" transform="translate(401.9 2068.7) scale(0.643 1)" font-size="19.5" fill="#fff" text-anchor="middle" textLength="46.6" lengthAdjust="spacing">3601</text>
<polygon points="329.3,2186.7 342.4,2182.2 342.4,2191.2" fill="#000" />
<rect x="341.9" y="2174.9" width="45.8" height="23.5" fill="#000" />
<text class="h" transform="translate(364.8 2193.7) scale(0.643 1)" font-size="19.5" fill="#fff" text-anchor="middle" textLength="46.6" lengthAdjust="spacing">3148</text>
<text class="h" transform="translate(551.4 1739.7) scale(0.588 1)" font-size="19.6" stroke="#000" textLength="347.7" lengthAdjust="spacing">ЗАДОЛЖЕННОСТЬ ПО ВЫПЛАТЕ</text>
<text class="h" transform="translate(551.4 1761.2) scale(0.604 1)" font-size="19.6" stroke="#000" textLength="381.3" lengthAdjust="spacing">ЗАРАБОТНОЙ ПЛАТЫ, МЛН ГРИВЕН</text>
<line x1="550.5" y1="1778.0" x2="550.5" y2="2216.0" stroke="#000" stroke-width="1" />
<rect x="551.3" y="1783.2" width="215.6" height="12.6" fill="#FFD166" />
<text class="l" x="500.5" y="1792.8">Май</text>
<rect x="551.3" y="1808.1" width="233.1" height="12.6" fill="#FFD166" />
<text class="l" x="500.5" y="1817.7">Апрель</text>
<rect x="551.3" y="1833.0" width="226.7" height="12.6" fill="#FFD166" />
<text class="l" x="500.5" y="1842.6">Март</text>
<rect x="551.3" y="1857.9" width="211.1" height="12.6" fill="#FFD166" />
<text class="l" x="500.5" y="1867.5">Февраль</text>
<rect x="551.3" y="1882.8" width="351.9" height="12.6" fill="#FFD166" />
<text class="l" x="500.5" y="1892.4">Январь</text>
<rect x="551.3" y="1907.7" width="341.6" height="12.6" fill="#EB6A6A" />
<text class="l" x="500.5" y="1917.3">Декабрь</text>
<rect x="551.3" y="1932.6" width="318.8" height="12.6" fill="#EB6A6A" />
<text class="l" x="500.5" y="1942.2">Ноябрь</text>
<rect x="551.3" y="1957.5" width="278.6" height="12.6" fill="#EB6A6A" />
<text class="l" x="500.5" y="1967.1">Октябрь</text>
<rect x="551.3" y="1982.4" width="205.9" height="12.6" fill="#EB6A6A" />
<text class="l" x="500.5" y="1992.0">Сентябрь</text>
<rect x="551.3" y="2007.3" width="155.9" height="12.6" fill="#EB6A6A" />
<text class="l" x="500.5" y="2016.9">Август</text>
<rect x="551.3" y="2032.2" width="139.7" height="12.6" fill="#EB6A6A" />
<text class="l" x="500.5" y="2041.8">Июль</text>
<rect x="551.3" y="2057.1" width="143.6" height="12.6" fill="#EB6A6A" />
<text class="l" x="500.5" y="2066.7">Июнь</text>
<rect x="551.3" y="2082.0" width="144.9" height="12.6" fill="#EB6A6A" />
<text class="l" x="500.5" y="2091.6">Май</text>
<rect x="551.3" y="2106.9" width="150.7" height="12.6" fill="#EB6A6A" />
<text class="l" x="500.5" y="2116.5">Апрель</text>
<rect x="551.3" y="2131.8" width="133.8" height="12.6" fill="#EB6A6A" />
<text class="l" x="500.5" y="2141.4">Март</text>
<rect x="551.3" y="2156.7" width="107.2" height="12.6" fill="#EB6A6A" />
<text class="l" x="500.5" y="2166.3">Февраль</text>
<rect x="551.3" y="2181.6" width="107.9" height="12.6" fill="#EB6A6A" />
<text class="l" x="500.5" y="2191.2">Январь</text>
<line x1="550.3" y1="2216.5" x2="926.5" y2="2216.5" stroke="#000" stroke-width="1" />
<line x1="550.5" y1="2210.5" x2="550.5" y2="2216.0" stroke="#000" stroke-width="1" />
<line x1="645.5" y1="2210.5" x2="645.5" y2="2216.0" stroke="#000" stroke-width="1" />
<line x1="739.5" y1="2210.5" x2="739.5" y2="2216.0" stroke="#000" stroke-width="1" />
<line x1="833.5" y1="2210.5" x2="833.5" y2="2216.0" stroke="#000" stroke-width="1" />
<line x1="926.5" y1="2210.5" x2="926.5" y2="2216.0" stroke="#000" stroke-width="1" />
<text class="l" x="550.8" y="2231.0">0</text>
<text class="l" x="739.0" y="2231.0" textLength="22.0" lengthAdjust="spacingAndGlyphs">1300</text>
<text class="l" x="926.6" y="2231.0" text-anchor="end" textLength="22.0" lengthAdjust="spacingAndGlyphs">2600</text>
<line x1="739.5" y1="2006.0" x2="739.5" y2="2092.0" class="d"/>
<line x1="739.5" y1="2131.0" x2="739.5" y2="2193.0" class="d"/>
<line x1="833.5" y1="1806.0" x2="833.5" y2="1867.0" class="d"/>
<line x1="833.5" y1="1956.0" x2="833.5" y2="2044.0" class="d"/>
<line x1="833.5" y1="2151.0" x2="833.5" y2="2193.0" class="d"/>
<line x1="925.5" y1="1782.0" x2="925.5" y2="1858.0" class="d"/>
<line x1="925.5" y1="1923.0" x2="925.5" y2="2193.0" class="d"/>
<polygon points="774.9,1789.0 788.8,1784.5 788.8,1793.5" fill="#000" />
<rect x="788.3" y="1777.3" width="58.5" height="23.4" fill="#000" />
<text class="h" transform="translate(797.3 1795.2) scale(0.661 1)" font-size="18.5" fill="#fff" textLength="60.8" lengthAdjust="spacing">1495,9</text>
<text class="h" x="838.0" y="1790.5" font-size="15" fill="#fff" stroke="#fff" textLength="6.0" lengthAdjust="spacingAndGlyphs">*</text>
<rect x="921.0" y="1867.4" width="55.8" height="46.2" fill="#000" />
<polygon points="909.1,1890.6 921.5,1886.1 921.5,1895.1" fill="#000" />
<text class="h" transform="translate(927.6 1886.8) scale(0.687 1)" font-size="18.5" fill="#fff" textLength="66.4" lengthAdjust="spacing">2436,8/</text>
<text class="h" transform="translate(927.6 1907.6) scale(0.652 1)" font-size="18.5" fill="#fff" textLength="60.8" lengthAdjust="spacing">1320,1</text>
<text class="h" x="968.0" y="1903.0" font-size="15" fill="#fff" stroke="#fff" textLength="6.0" lengthAdjust="spacingAndGlyphs">*</text>
<polygon points="708.5,2113.8 723.3,2109.3 723.3,2118.3" fill="#000" />
<rect x="722.8" y="2102.1" width="58.4" height="23.5" fill="#000" />
<text class="h" transform="translate(752.0 2120.8) scale(0.639 1)" font-size="19.5" fill="#fff" text-anchor="middle" textLength="64.1" lengthAdjust="spacing">1046,9</text>
<rect x="809.8" y="2083.0" width="13.2" height="12.5" fill="#FFD166" />
<text class="l" x="829.0" y="2092.8">2015 год</text>
<rect x="809.8" y="2107.7" width="13.2" height="12.5" fill="#EB6A6A" />
<text class="l" x="829.0" y="2117.4">2014 год</text>
<text class="l" x="553.4" y="2260.9">Сумма задолженности по состоянию на 1 января была пересчитана.</text>
<text class="l" x="553.4" y="2277.0">Не включает часть зоны силовой операции на юго-востоке</text>
<text x="877.5" y="2091.5" font-size="17" font-weight="bold">*</text>
<text x="544.3" y="2260.5" font-size="17" font-weight="bold">*</text>
<text class="h" transform="translate(74.2 2323.3) scale(0.613 1)" font-size="19.6" stroke="#000" textLength="663.4" lengthAdjust="spacing">ТАРИФЫ НА ЭЛЕКТРОЭНЕРГИЮ ДЛЯ НАСЕЛЕНИЯ, КОП./КВТ·Ч</text>
<text class="l" x="53.6" y="2363.1" text-anchor="end" textLength="30.7" lengthAdjust="spacingAndGlyphs">100,00</text>
<line x1="59.5" y1="2359.5" x2="64.0" y2="2359.5" stroke="#000" stroke-width="1" />
<text class="l" x="53.6" y="2461.4" text-anchor="end">66</text>
<line x1="59.5" y1="2459.5" x2="64.0" y2="2459.5" stroke="#000" stroke-width="1" />
<text class="l" x="53.6" y="2559.9" text-anchor="end">33</text>
<line x1="59.5" y1="2559.5" x2="64.0" y2="2559.5" stroke="#000" stroke-width="1" />
<text class="l" x="53.6" y="2659.5" text-anchor="end">0</text>
<line x1="59.5" y1="2659.5" x2="64.0" y2="2659.5" stroke="#000" stroke-width="1" />
<line x1="59.5" y1="2358.5" x2="59.5" y2="2660.4" stroke="#000" stroke-width="1" />
<line x1="363" y1="2359.5" x2="828" y2="2359.5" class="d4"/>
<line x1="363" y1="2459.5" x2="566" y2="2459.5" class="d4"/>
<line x1="639" y1="2459.5" x2="720" y2="2459.5" class="d4"/>
<line x1="750" y1="2459.5" x2="846" y2="2459.5" class="d4"/>
<line x1="74" y1="2559.5" x2="113" y2="2559.5" class="d4"/>
<line x1="248" y1="2559.5" x2="332" y2="2559.5" class="d4"/>
<line x1="357" y1="2559.5" x2="457" y2="2559.5" class="d4"/>
<line x1="498" y1="2559.5" x2="580" y2="2559.5" class="d4"/>
<line x1="632" y1="2559.5" x2="705" y2="2559.5" class="d4"/>
<line x1="767" y1="2559.5" x2="831" y2="2559.5" class="d4"/>
<text class="l" x="72.0" y="2365.8">Национальная комиссия по государственному</text>
<text class="l" x="72.0" y="2377.8">регулированию в сфере энергетики и коммуналь-</text>
<text class="l" x="72.0" y="2389.8">ных услуг приняла решение о поэтапном повыше-</text>
<text class="l" x="72.0" y="2401.7">нии тарифов на электроэнергию для населения.</text>
<text class="l" x="72.0" y="2413.7">Данное повышение предусматривает пять этапов,</text>
<text class="l" x="72.0" y="2425.7">начинающихся с 1 апреля 2015. Кроме того, для</text>
<text class="l" x="72.0" y="2437.7">населения предусматривается уменьшение тариф-</text>
<text class="l" x="72.0" y="2449.7">ного коэффициента в ночное время с 0,7 до 0,5</text>
<text class="l" x="72.0" y="2461.6">(при условии использования потребителями</text>
<text class="l" x="72.0" y="2473.6">двухзонного учета электроэнергии)</text>
<polygon points="180.5,2576.3 222.4,2659.5 139.0,2659.5" fill="#F2E062" />
<polygon points="180.5,2576.3 180.5,2659.5 139.0,2659.5" fill="#DCCB56" />
<polygon points="347.7,2550.0 388.5,2659.5 308.3,2659.5" fill="#FFD166" />
<polygon points="347.7,2550.0 347.7,2659.5 308.3,2659.5" fill="#E9BD59" />
<polygon points="479.3,2523.0 518.0,2659.5 439.8,2659.5" fill="#FFAE5E" />
<polygon points="479.3,2523.0 479.3,2659.5 439.8,2659.5" fill="#EB9F52" />
<polygon points="606.4,2491.8 646.5,2659.5 565.7,2659.5" fill="#F5916F" />
<polygon points="606.4,2491.8 606.4,2659.5 565.7,2659.5" fill="#E08262" />
<polygon points="736.7,2440.4 776.8,2659.5 697.2,2659.5" fill="#EB6A6A" />
<polygon points="736.7,2440.4 736.7,2659.5 697.2,2659.5" fill="#D96060" />
<polygon points="865.8,2387.0 905.3,2659.5 825.0,2659.5" fill="#C85868" />
<polygon points="865.8,2387.0 865.8,2659.5 825.0,2659.5" fill="#B55062" />
<line x1="74.0" y1="2659.9" x2="926.0" y2="2659.9" stroke="#000" stroke-width="1.2" />
<text class="l" x="222.4" y="2651.0" text-anchor="middle">2015 год</text>
<line x1="222.5" y1="2655.0" x2="222.5" y2="2660.0" stroke="#000" stroke-width="1" />
<text class="l" x="479.3" y="2651.0" text-anchor="middle">2016 год</text>
<line x1="479.5" y1="2655.0" x2="479.5" y2="2660.0" stroke="#000" stroke-width="1" />
<text class="l" x="735.5" y="2651.0" text-anchor="middle">2017 год</text>
<line x1="735.5" y1="2655.0" x2="735.5" y2="2660.0" stroke="#000" stroke-width="1" />
<text class="h" transform="translate(347.7 2626.5) scale(0.615 1)" font-size="19" fill="#fff" text-anchor="middle" textLength="56.1" lengthAdjust="spacing">I этап</text>
<text class="h" transform="translate(479.3 2626.5) scale(0.628 1)" font-size="19" fill="#fff" text-anchor="middle" textLength="61.7" lengthAdjust="spacing">II этап</text>
<text class="h" transform="translate(606.4 2626.5) scale(0.651 1)" font-size="19" fill="#fff" text-anchor="middle" textLength="67.4" lengthAdjust="spacing">III этап</text>
<text class="h" transform="translate(736.7 2626.5) scale(0.611 1)" font-size="19" fill="#fff" text-anchor="middle" textLength="69.7" lengthAdjust="spacing">IV этап</text>
<text class="h" transform="translate(865.8 2626.5) scale(0.617 1)" font-size="19" fill="#fff" text-anchor="middle" textLength="64.0" lengthAdjust="spacing">V этап</text>
<polygon points="180.5,2558.0 176.0,2546.5 185.0,2546.5" fill="#000" />
<rect x="156.6" y="2523.0" width="47.7" height="24.0" fill="#000" />
<text class="h" transform="translate(180.4 2542.0) scale(0.648 1)" font-size="19.5" fill="#fff" text-anchor="middle" textLength="52.5" lengthAdjust="spacing">30,84</text>
<polygon points="347.7,2528.0 343.2,2516.7 352.2,2516.7" fill="#000" />
<rect x="324.0" y="2493.2" width="47.0" height="24.0" fill="#000" />
<text class="h" transform="translate(347.5 2512.2) scale(0.648 1)" font-size="19.5" fill="#fff" text-anchor="middle" textLength="52.5" lengthAdjust="spacing">36,60</text>
<polygon points="479.3,2505.0 474.8,2493.3 483.8,2493.3" fill="#000" />
<rect x="456.2" y="2469.8" width="42.4" height="24.0" fill="#000" />
<text class="h" transform="translate(477.4 2488.8) scale(0.629 1)" font-size="19.5" fill="#fff" text-anchor="middle" textLength="52.5" lengthAdjust="spacing">45,60</text>
<polygon points="606.4,2473.0 601.9,2460.9 610.9,2460.9" fill="#000" />
<rect x="583.8" y="2437.8" width="44.5" height="23.6" fill="#000" />
<text class="h" transform="translate(606.0 2456.6) scale(0.629 1)" font-size="19.5" fill="#fff" text-anchor="middle" textLength="52.5" lengthAdjust="spacing">57,00</text>
<polygon points="736.7,2418.4 732.2,2406.0 741.2,2406.0" fill="#000" />
<rect x="714.2" y="2382.7" width="45.1" height="23.8" fill="#000" />
<text class="h" transform="translate(736.8 2401.6) scale(0.629 1)" font-size="19.5" fill="#fff" text-anchor="middle" textLength="52.5" lengthAdjust="spacing">71,40</text>
<polygon points="865.8,2368.3 861.3,2357.2 870.3,2357.2" fill="#000" />
<rect x="842.6" y="2333.9" width="45.1" height="23.8" fill="#000" />
<text class="h" transform="translate(865.1 2352.8) scale(0.629 1)" font-size="19.5" fill="#fff" text-anchor="middle" textLength="52.5" lengthAdjust="spacing">90,00</text>
<text class="l" x="180.5" y="2572.0" text-anchor="middle" textLength="128.9" lengthAdjust="spacingAndGlyphs">С 01.06.2014 по 31.03.2015</text>
<text class="l" x="347.7" y="2541.3" text-anchor="middle" textLength="60.2" lengthAdjust="spacingAndGlyphs">С 01.04.2015</text>
<text class="l" x="479.3" y="2515.6" text-anchor="middle" textLength="60.2" lengthAdjust="spacingAndGlyphs">С 01.09.2015</text>
<text class="l" x="606.4" y="2486.7" text-anchor="middle" textLength="60.2" lengthAdjust="spacingAndGlyphs">С 01.03.2016</text>
<text class="l" x="736.7" y="2433.5" text-anchor="middle" textLength="60.2" lengthAdjust="spacingAndGlyphs">С 01.09.2016</text>
<text class="l" x="865.8" y="2382.7" text-anchor="middle" textLength="60.2" lengthAdjust="spacingAndGlyphs">С 01.03.2017</text>
<rect x="74.0" y="2669.8" width="186.0" height="4.2" fill="#F2E062" />
<rect x="275.7" y="2669.8" width="513.7" height="4.2" fill="#FFAE5E" />
<rect x="803.8" y="2669.8" width="123.4" height="4.2" fill="#C85868" />
<text class="hc" transform="translate(74.0 2694.2) scale(0.593 1)" font-size="17.5" textLength="189.0" lengthAdjust="spacing">До 150 кВт·час/месяц</text>
<text class="hc" transform="translate(278.8 2694.2) scale(0.587 1)" font-size="17.5" textLength="189.0" lengthAdjust="spacing">До 100 кВт·час/месяц</text>
<text class="hc" transform="translate(803.8 2694.2) scale(0.582 1)" font-size="17.5" textLength="189.0" lengthAdjust="spacing">До 100 кВт·час/месяц</text>
<text class="l" x="74.0" y="2717.3">Население, проживающее</text>
<text class="l" x="74.0" y="2729.3">в жилых домах, оборудованных газо-</text>
<text class="l" x="74.0" y="2741.3">выми или другими плитами (кроме</text>
<text class="l" x="74.0" y="2753.3">кухонных электрических плит)</text>
<text class="l" x="278.8" y="2717.3">Население, проживающее в жилых</text>
<text class="l" x="278.8" y="2729.3">домах (в том числе в домах, оборудо-</text>
<text class="l" x="278.8" y="2741.3">ванных кухонными электроплитами)</text>
<text class="l" x="803.8" y="2717.3">Население, проживаю-</text>
<text class="l" x="803.8" y="2729.3">щее в жилых домах</text>
<text class="l" x="803.8" y="2741.3">(в том числе в домах,</text>
<text class="l" x="803.8" y="2753.3">оборудованных кухон-</text>
<text class="l" x="803.8" y="2765.3">ными электроплитами),</text>
<text class="l" x="803.8" y="2777.3">в том числе и в сель-</text>
<text class="l" x="803.8" y="2789.3">ской местности</text>
<text class="h" transform="translate(74.0 2826.0) scale(0.614 1)" font-size="19.6" stroke="#000" textLength="527.6" lengthAdjust="spacing">ТАРИФЫ НА ГАЗ ДЛЯ НАСЕЛЕНИЯ, ГРИВНЫ ЗА М</text>
<text class="h" x="398.5" y="2818.5" font-size="11" stroke="#000" textLength="5.0" lengthAdjust="spacingAndGlyphs">3</text>
<circle cx="109.6" cy="2942.4" r="29.4" fill="#FFD166"/>
<path d="M109.6 2913.0 A29.4 29.4 0 0 0 109.6 2971.8 Z" fill="#E9BD59"/>
<circle cx="133.5" cy="2962.4" r="30.7" fill="#FFAE5E"/>
<path d="M133.5 2931.7 A30.7 30.7 0 0 0 133.5 2993.1 Z" fill="#EB9F52"/>
<circle cx="355.9" cy="2959.3" r="60.2" fill="#F5916F"/>
<path d="M355.9 2899.1 A60.2 60.2 0 0 0 355.9 3019.5 Z" fill="#E08262"/>
<circle cx="571.3" cy="2935.5" r="54.5" fill="#EB6A6A"/>
<path d="M571.3 2881.0 A54.5 54.5 0 0 0 571.3 2990.0 Z" fill="#D96060"/>
<circle cx="609.5" cy="2971.2" r="60.2" fill="#C85868"/>
<path d="M609.5 2911.0 A60.2 60.2 0 0 0 609.5 3031.4 Z" fill="#B55062"/>
<polygon points="110.3,2911.7 105.8,2899.5 114.8,2899.5" fill="#000" />
<rect x="87.7" y="2876.6" width="50.1" height="23.4" fill="#000" />
<text class="h" x="112.8" y="2895.3" font-size="19.5" fill="#fff" stroke="#fff" text-anchor="middle" textLength="1.0" lengthAdjust="spacingAndGlyphs"></text>
<text class="h" transform="translate(93.5 2894.6) scale(0.606 1)" font-size="19" fill="#fff" textLength="51.1" lengthAdjust="spacing">1,089</text>
<text class="h" x="125.5" y="2890.0" font-size="15" fill="#fff" stroke="#fff" textLength="6.0" lengthAdjust="spacingAndGlyphs">*</text>
<polygon points="132.8,2995.0 128.3,3009.9 137.3,3009.9" fill="#000" />
<rect x="106.5" y="3009.4" width="56.4" height="23.4" fill="#000" />
<text class="h" x="134.7" y="3028.1" font-size="19.5" fill="#fff" stroke="#fff" text-anchor="middle" textLength="1.0" lengthAdjust="spacingAndGlyphs"></text>
<text class="h" transform="translate(112.5 3027.5) scale(0.606 1)" font-size="19" fill="#fff" textLength="51.1" lengthAdjust="spacing">1,197</text>
<text class="h" transform="translate(144.5 3023.0) scale(0.956 1)" font-size="15" fill="#fff" textLength="12.6" lengthAdjust="spacing">**</text>
<polygon points="355.9,2896.6 351.4,2885.1 360.4,2885.1" fill="#000" />
<rect x="333.3" y="2862.2" width="45.1" height="23.4" fill="#000" />
<text class="h" transform="translate(355.9 2880.9) scale(0.610 1)" font-size="19.5" fill="#fff" text-anchor="middle" textLength="52.5" lengthAdjust="spacing">7,188</text>
<polygon points="571.3,2879.0 566.8,2868.2 575.8,2868.2" fill="#000" />
<rect x="549.4" y="2845.3" width="42.6" height="23.4" fill="#000" />
<text class="h" transform="translate(570.7 2864.0) scale(0.591 1)" font-size="19.5" fill="#fff" text-anchor="middle" textLength="52.5" lengthAdjust="spacing">3,600</text>
<polygon points="609.5,2908.0 605.0,2896.4 614.0,2896.4" fill="#000" />
<rect x="587.0" y="2873.5" width="43.8" height="23.4" fill="#000" />
<text class="h" transform="translate(608.9 2892.2) scale(0.610 1)" font-size="19.5" fill="#fff" text-anchor="middle" textLength="52.5" lengthAdjust="spacing">7,188</text>
<text class="l" x="597.0" y="2852.8">До 200</text>
<text class="l" x="597.0" y="2864.2">м³/месяц</text>
<text class="l" x="635.8" y="2882.2">Свыше 200</text>
<text class="l" x="635.8" y="2894.0">м³/месяц</text>
<text class="l" x="79.0" y="3064.0">До 208,3 м³/месяц</text>
<text class="l" x="297.6" y="3064.0">С 1 мая по 30 сентября</text>
<text class="l" x="526.2" y="3064.0">С 1 октября по 30 апреля</text>
<text x="69.8" y="3090.5" font-size="17" font-weight="bold">*</text>
<text class="l" x="77.7" y="3092.0">при наличии газовых счётчиков</text>
<text x="281.5" y="3090.5" font-size="17" font-weight="bold" textLength="12.0" lengthAdjust="spacingAndGlyphs">**</text>
<text class="l" x="297.0" y="3092.0">при отсутствии газовых счётчиков</text>
<text class="l" x="191.0" y="3115.3" text-anchor="middle">2015 год</text>
<line x1="191.5" y1="3123.5" x2="191.5" y2="3128.5" stroke="#000" stroke-width="1" />
<line x1="76.0" y1="3128.5" x2="927.0" y2="3128.5" stroke="#000" stroke-width="1.1" />
<rect x="74.0" y="3138.5" width="169.0" height="4.5" fill="#F2E062" />
<rect x="263.0" y="3138.5" width="664.0" height="4.5" fill="#D35C64" />
<text class="l" x="75.2" y="3158.0" textLength="128.9" lengthAdjust="spacingAndGlyphs">С 01.05.2014 по 31.03.2015</text>
<text class="l" x="263.2" y="3158.0" textLength="60.2" lengthAdjust="spacingAndGlyphs">С 01.04.2015</text>
<text x="20.0" y="3197.4" font-size="9" font-family="'DejaVu Sans', 'Liberation Sans', sans-serif" fill="#444" textLength="277.6" lengthAdjust="spacingAndGlyphs">Источники: minfin.gov.ua, index.minfin.com.ua, ukrstat.gov.ua</text>
<text class="l" x="726.7" y="2865.3">Национальная комиссия по государ-</text>
<text class="l" x="726.7" y="2877.4">ственному регулированию в сфере</text>
<text class="l" x="726.7" y="2889.4">энергетики и коммунальных услуг</text>
<text class="l" x="726.7" y="2901.5">с 1 апреля 2015 повысила минимальный</text>
<text class="l" x="726.7" y="2913.6">тариф на газ для населения до 3600</text>
<text class="l" x="726.7" y="2925.7">гривен за 1000 м³. Минимальный тариф</text>
<text class="l" x="726.7" y="2937.7">для населения действует</text>
<text class="l" x="726.7" y="2949.8">в отопительный период — с 1 октября</text>
<text class="l" x="726.7" y="2961.9">по 30 апреля, при потреблении газа</text>
<text class="l" x="726.7" y="2973.9">в объёме до 200 м³ в месяц. В случае</text>
<text class="l" x="726.7" y="2986.0">превышения данного объёма последую-</text>
<text class="l" x="726.7" y="2998.1">щие объёмы оплачиваются из расчёта</text>
<text class="l" x="726.7" y="3010.1">7188 гривен за 1000 м³. С 1 мая по 30</text>
<text class="l" x="726.7" y="3022.2">сентября стоимость газа будет состав-</text>
<text class="l" x="726.7" y="3034.3">лять 7188 гривен за 1000 м³ независимо</text>
<text class="l" x="726.7" y="3046.4">от объёмов потребления</text>
</svg>
</body></html>
